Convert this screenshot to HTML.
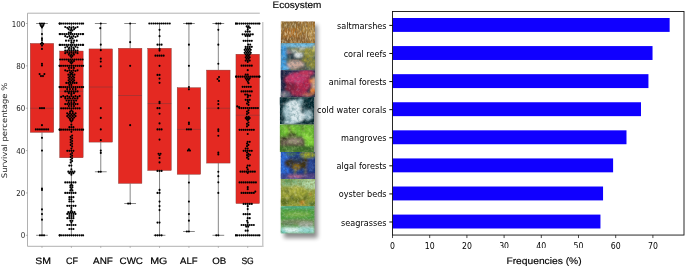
<!DOCTYPE html>
<html lang="en"><head><meta charset="utf-8"><title>Ecosystem restoration survival</title>
<style>html,body{margin:0;padding:0;background:#fff;}svg{display:block}</style></head>
<body>
<svg width="685" height="267" viewBox="0 0 685 267">
<defs><clipPath id="tickclip"><rect x="380" y="238" width="305" height="10.25"/></clipPath><filter id="b1" x="-20%" y="-20%" width="140%" height="140%"><feGaussianBlur stdDeviation="0.8"/></filter>
<filter id="b2" x="-20%" y="-20%" width="140%" height="140%"><feGaussianBlur stdDeviation="1.4"/></filter>
<filter id="sh" x="-30%" y="-10%" width="170%" height="125%"><feGaussianBlur stdDeviation="2.3"/></filter>
<clipPath id="pc0"><rect x="280.9" y="21.4" width="34.10" height="21.60"/></clipPath>
<clipPath id="pc1"><rect x="280.7" y="43.0" width="34.30" height="27.20"/></clipPath>
<clipPath id="pc2"><rect x="280.7" y="70.2" width="34.30" height="27.00"/></clipPath>
<clipPath id="pc3"><rect x="279.8" y="97.2" width="34.30" height="27.40"/></clipPath>
<clipPath id="pc4"><rect x="279.8" y="124.6" width="34.10" height="27.30"/></clipPath>
<clipPath id="pc5"><rect x="280.7" y="151.9" width="34.30" height="27.00"/></clipPath>
<clipPath id="pc6"><rect x="280.7" y="178.9" width="34.30" height="27.30"/></clipPath>
<clipPath id="pc7"><rect x="280.6" y="206.2" width="33.90" height="27.20"/></clipPath>
<filter id="n1" x="0" y="0" width="100%" height="100%"><feTurbulence type="fractalNoise" baseFrequency="0.6 0.25" numOctaves="2" seed="4"/><feColorMatrix type="matrix" values="0 0 0 0 0.204  0 0 0 0 0.125  0 0 0 0 0.047  3.0 0 0 0 -1.15"/></filter>
<filter id="n2" x="0" y="0" width="100%" height="100%"><feTurbulence type="fractalNoise" baseFrequency="0.8 0.25" numOctaves="2" seed="11"/><feColorMatrix type="matrix" values="0 0 0 0 0.894  0 0 0 0 0.761  0 0 0 0 0.486  0 2.8 0 0 -1.2"/></filter>
<filter id="n3" x="0" y="0" width="100%" height="100%"><feTurbulence type="fractalNoise" baseFrequency="0.3 0.3" numOctaves="2" seed="9"/><feColorMatrix type="matrix" values="0 0 0 0 0.290  0 0 0 0 0.165  0 0 0 0 0.063  2.8 0 0 0 -1.2"/></filter>
<filter id="n4" x="0" y="0" width="100%" height="100%"><feTurbulence type="fractalNoise" baseFrequency="0.36 0.36" numOctaves="2" seed="7"/><feColorMatrix type="matrix" values="0 0 0 0 0.047  0 0 0 0 0.094  0 0 0 0 0.125  2.8 0 0 0 -1.15"/></filter>
<filter id="n5" x="0" y="0" width="100%" height="100%"><feTurbulence type="fractalNoise" baseFrequency="0.36 0.36" numOctaves="2" seed="23"/><feColorMatrix type="matrix" values="0 0 0 0 0.941  0 0 0 0 0.941  0 0 0 0 0.816  0 2.6 0 0 -1.2"/></filter>
<filter id="n6" x="0" y="0" width="100%" height="100%"><feTurbulence type="fractalNoise" baseFrequency="0.36 0.36" numOctaves="2" seed="3"/><feColorMatrix type="matrix" values="0 0 0 0 0.063  0 0 0 0 0.031  0 0 0 0 0.110  2.6 0 0 0 -1.05"/></filter>
<filter id="n7" x="0" y="0" width="100%" height="100%"><feTurbulence type="fractalNoise" baseFrequency="0.36 0.36" numOctaves="2" seed="17"/><feColorMatrix type="matrix" values="0 0 0 0 0.933  0 0 0 0 0.478  0 0 0 0 0.596  0 2.6 0 0 -1.15"/></filter>
<filter id="n8" x="0" y="0" width="100%" height="100%"><feTurbulence type="fractalNoise" baseFrequency="0.36 0.36" numOctaves="2" seed="5"/><feColorMatrix type="matrix" values="0 0 0 0 0.016  0 0 0 0 0.094  0 0 0 0 0.110  2.8 0 0 0 -1.15"/></filter>
<filter id="n9" x="0" y="0" width="100%" height="100%"><feTurbulence type="fractalNoise" baseFrequency="0.36 0.36" numOctaves="2" seed="29"/><feColorMatrix type="matrix" values="0 0 0 0 1.000  0 0 0 0 1.000  0 0 0 0 1.000  0 2.6 0 0 -1.1"/></filter>
<filter id="n10" x="0" y="0" width="100%" height="100%"><feTurbulence type="fractalNoise" baseFrequency="0.36 0.36" numOctaves="2" seed="13"/><feColorMatrix type="matrix" values="0 0 0 0 0.078  0 0 0 0 0.141  0 0 0 0 0.031  2.6 0 0 0 -1.05"/></filter>
<filter id="n11" x="0" y="0" width="100%" height="100%"><feTurbulence type="fractalNoise" baseFrequency="0.36 0.36" numOctaves="2" seed="31"/><feColorMatrix type="matrix" values="0 0 0 0 0.784  0 0 0 0 0.941  0 0 0 0 0.439  0 2.6 0 0 -1.12"/></filter>
<filter id="n12" x="0" y="0" width="100%" height="100%"><feTurbulence type="fractalNoise" baseFrequency="0.4 0.4" numOctaves="2" seed="19"/><feColorMatrix type="matrix" values="0 0 0 0 0.024  0 0 0 0 0.039  0 0 0 0 0.157  2.8 0 0 0 -1.05"/></filter>
<filter id="n13" x="0" y="0" width="100%" height="100%"><feTurbulence type="fractalNoise" baseFrequency="0.36 0.36" numOctaves="2" seed="37"/><feColorMatrix type="matrix" values="0 0 0 0 0.376  0 0 0 0 0.627  0 0 0 0 1.000  0 2.6 0 0 -1.15"/></filter>
<filter id="n14" x="0" y="0" width="100%" height="100%"><feTurbulence type="fractalNoise" baseFrequency="0.42 0.42" numOctaves="2" seed="41"/><feColorMatrix type="matrix" values="0 0 0 0 0.157  0 0 0 0 0.188  0 0 0 0 0.031  2.8 0 0 0 -1.08"/></filter>
<filter id="n15" x="0" y="0" width="100%" height="100%"><feTurbulence type="fractalNoise" baseFrequency="0.36 0.36" numOctaves="2" seed="43"/><feColorMatrix type="matrix" values="0 0 0 0 0.878  0 0 0 0 0.878  0 0 0 0 0.502  0 2.6 0 0 -1.12"/></filter>
<filter id="n16" x="0" y="0" width="100%" height="100%"><feTurbulence type="fractalNoise" baseFrequency="0.35 0.6" numOctaves="2" seed="47"/><feColorMatrix type="matrix" values="0 0 0 0 0.094  0 0 0 0 0.188  0 0 0 0 0.094  2.6 0 0 0 -1.08"/></filter>
<filter id="n17" x="0" y="0" width="100%" height="100%"><feTurbulence type="fractalNoise" baseFrequency="0.35 0.6" numOctaves="2" seed="53"/><feColorMatrix type="matrix" values="0 0 0 0 1.000  0 0 0 0 1.000  0 0 0 0 1.000  0 2.6 0 0 -1.12"/></filter></defs>
<rect width="685" height="267" fill="#fff"/>
<g id="boxplot">
<path d="M41.99 23.50V43.41M41.99 132.37V235.30M36.12 23.50H47.87M36.12 235.30H47.87" stroke="#444" stroke-width="0.65" fill="none"/>
<rect x="30.24" y="43.41" width="23.51" height="88.96" fill="#e42922" stroke="#7a3a36" stroke-width="0.4"/>
<path d="M30.24 108.22H53.75" stroke="#7a3a3a" stroke-width="0.5"/>
<path d="M71.38 23.50V51.03M71.38 157.78V235.30M65.50 23.50H77.26M65.50 235.30H77.26" stroke="#444" stroke-width="0.65" fill="none"/>
<rect x="59.63" y="51.03" width="23.51" height="106.75" fill="#e42922" stroke="#7a3a36" stroke-width="0.4"/>
<path d="M59.63 91.28H83.14" stroke="#7a3a3a" stroke-width="0.5"/>
<path d="M100.77 23.50V48.92M100.77 142.11V171.76M94.89 23.50H106.65M94.89 171.76H106.65" stroke="#444" stroke-width="0.65" fill="none"/>
<rect x="89.01" y="48.92" width="23.51" height="93.19" fill="#e42922" stroke="#7a3a36" stroke-width="0.4"/>
<path d="M89.01 87.04H112.52" stroke="#7a3a3a" stroke-width="0.5"/>
<path d="M130.16 23.50V48.28M130.16 183.41V203.53M124.28 23.50H136.03M124.28 203.53H136.03" stroke="#444" stroke-width="0.65" fill="none"/>
<rect x="118.40" y="48.28" width="23.51" height="135.13" fill="#e42922" stroke="#7a3a36" stroke-width="0.4"/>
<path d="M118.40 95.51H141.91" stroke="#7a3a3a" stroke-width="0.5"/>
<path d="M159.54 23.50V48.28M159.54 170.49V235.30M153.67 23.50H165.42M153.67 235.30H165.42" stroke="#444" stroke-width="0.65" fill="none"/>
<rect x="147.79" y="48.28" width="23.51" height="122.21" fill="#e42922" stroke="#7a3a36" stroke-width="0.4"/>
<path d="M147.79 103.56H171.30" stroke="#7a3a3a" stroke-width="0.5"/>
<path d="M188.93 23.50V87.68M188.93 174.30V231.49M183.05 23.50H194.81M183.05 231.49H194.81" stroke="#444" stroke-width="0.65" fill="none"/>
<rect x="177.18" y="87.68" width="23.51" height="86.63" fill="#e42922" stroke="#7a3a36" stroke-width="0.4"/>
<path d="M177.18 129.40H200.69" stroke="#7a3a3a" stroke-width="0.5"/>
<path d="M218.32 23.50V70.10M218.32 163.08V235.30M212.44 23.50H224.20M212.44 235.30H224.20" stroke="#444" stroke-width="0.65" fill="none"/>
<rect x="206.56" y="70.10" width="23.51" height="92.98" fill="#e42922" stroke="#7a3a36" stroke-width="0.4"/>
<path d="M206.56 108.22H230.07" stroke="#7a3a3a" stroke-width="0.5"/>
<path d="M247.71 23.50V54.21M247.71 203.53V235.30M241.83 23.50H253.58M241.83 235.30H253.58" stroke="#444" stroke-width="0.65" fill="none"/>
<rect x="235.95" y="54.21" width="23.51" height="149.32" fill="#e42922" stroke="#7a3a36" stroke-width="0.4"/>
<path d="M235.95 115.21H259.46" stroke="#7a3a3a" stroke-width="0.5"/>
<path d="M259.8 13.2H27.5V246.3H263.4" fill="none" stroke="#a8a8a8" stroke-width="0.9"/>
<path d="M262.75 22V246.70000000000002" fill="none" stroke="#cbcbcb" stroke-width="1.5"/>
<path d="M41.99 246.3v1.6" stroke="#888" stroke-width="0.6"/>
<path d="M71.38 246.3v1.6" stroke="#888" stroke-width="0.6"/>
<path d="M100.77 246.3v1.6" stroke="#888" stroke-width="0.6"/>
<path d="M130.16 246.3v1.6" stroke="#888" stroke-width="0.6"/>
<path d="M159.54 246.3v1.6" stroke="#888" stroke-width="0.6"/>
<path d="M188.93 246.3v1.6" stroke="#888" stroke-width="0.6"/>
<path d="M218.32 246.3v1.6" stroke="#888" stroke-width="0.6"/>
<path d="M247.71 246.3v1.6" stroke="#888" stroke-width="0.6"/>
<path d="M27.5 235.30h-1.6" stroke="#888" stroke-width="0.6"/>
<path d="M27.5 192.94h-1.6" stroke="#888" stroke-width="0.6"/>
<path d="M27.5 150.58h-1.6" stroke="#888" stroke-width="0.6"/>
<path d="M27.5 108.22h-1.6" stroke="#888" stroke-width="0.6"/>
<path d="M27.5 65.86h-1.6" stroke="#888" stroke-width="0.6"/>
<path d="M27.5 23.50h-1.6" stroke="#888" stroke-width="0.6"/>
<g fill="#000">
<ellipse cx="39.94" cy="23.50" rx="1.03" ry="1.1"/>
<ellipse cx="41.99" cy="23.50" rx="1.03" ry="1.1"/>
<ellipse cx="44.04" cy="23.50" rx="1.03" ry="1.1"/>
<ellipse cx="40.59" cy="24.98" rx="1.03" ry="1.1"/>
<ellipse cx="43.39" cy="24.98" rx="1.03" ry="1.1"/>
<ellipse cx="41.24" cy="26.25" rx="1.03" ry="1.1"/>
<ellipse cx="42.74" cy="26.25" rx="1.03" ry="1.1"/>
<ellipse cx="41.99" cy="27.52" rx="1.03" ry="1.1"/>
<ellipse cx="41.99" cy="34.09" rx="1.03" ry="1.1"/>
<ellipse cx="41.99" cy="38.33" rx="1.03" ry="1.1"/>
<ellipse cx="41.99" cy="40.02" rx="1.03" ry="1.1"/>
<ellipse cx="41.99" cy="42.56" rx="1.03" ry="1.1"/>
<ellipse cx="40.97" cy="43.83" rx="1.03" ry="1.1"/>
<ellipse cx="43.02" cy="43.83" rx="1.03" ry="1.1"/>
<ellipse cx="41.99" cy="45.53" rx="1.03" ry="1.1"/>
<ellipse cx="41.99" cy="48.92" rx="1.03" ry="1.1"/>
<ellipse cx="41.99" cy="63.74" rx="1.03" ry="1.1"/>
<ellipse cx="41.99" cy="65.44" rx="1.03" ry="1.1"/>
<ellipse cx="39.59" cy="74.12" rx="1.03" ry="1.1"/>
<ellipse cx="44.39" cy="74.12" rx="1.03" ry="1.1"/>
<ellipse cx="40.99" cy="76.03" rx="1.03" ry="1.1"/>
<ellipse cx="42.99" cy="76.03" rx="1.03" ry="1.1"/>
<ellipse cx="39.94" cy="108.22" rx="1.03" ry="1.1"/>
<ellipse cx="41.99" cy="108.22" rx="1.03" ry="1.1"/>
<ellipse cx="44.04" cy="108.22" rx="1.03" ry="1.1"/>
<ellipse cx="41.99" cy="125.16" rx="1.03" ry="1.1"/>
<ellipse cx="35.84" cy="129.40" rx="1.03" ry="1.1"/>
<ellipse cx="37.89" cy="129.40" rx="1.03" ry="1.1"/>
<ellipse cx="39.94" cy="129.40" rx="1.03" ry="1.1"/>
<ellipse cx="41.99" cy="129.40" rx="1.03" ry="1.1"/>
<ellipse cx="44.04" cy="129.40" rx="1.03" ry="1.1"/>
<ellipse cx="46.09" cy="129.40" rx="1.03" ry="1.1"/>
<ellipse cx="48.14" cy="129.40" rx="1.03" ry="1.1"/>
<ellipse cx="41.99" cy="137.87" rx="1.03" ry="1.1"/>
<ellipse cx="41.99" cy="150.58" rx="1.03" ry="1.1"/>
<ellipse cx="41.99" cy="188.70" rx="1.03" ry="1.1"/>
<ellipse cx="41.99" cy="189.97" rx="1.03" ry="1.1"/>
<ellipse cx="41.99" cy="209.46" rx="1.03" ry="1.1"/>
<ellipse cx="41.99" cy="214.12" rx="1.03" ry="1.1"/>
<ellipse cx="41.99" cy="219.63" rx="1.03" ry="1.1"/>
<ellipse cx="39.94" cy="235.30" rx="1.03" ry="1.1"/>
<ellipse cx="41.99" cy="235.30" rx="1.03" ry="1.1"/>
<ellipse cx="44.04" cy="235.30" rx="1.03" ry="1.1"/>
<ellipse cx="59.63" cy="23.60" rx="1.03" ry="1.1"/>
<ellipse cx="59.63" cy="23.60" rx="1.03" ry="1.1"/>
<ellipse cx="61.13" cy="23.60" rx="1.03" ry="1.1"/>
<ellipse cx="63.18" cy="23.60" rx="1.03" ry="1.1"/>
<ellipse cx="65.23" cy="23.60" rx="1.03" ry="1.1"/>
<ellipse cx="67.28" cy="23.60" rx="1.03" ry="1.1"/>
<ellipse cx="69.33" cy="23.60" rx="1.03" ry="1.1"/>
<ellipse cx="71.38" cy="23.60" rx="1.03" ry="1.1"/>
<ellipse cx="73.43" cy="23.60" rx="1.03" ry="1.1"/>
<ellipse cx="75.48" cy="23.60" rx="1.03" ry="1.1"/>
<ellipse cx="77.53" cy="23.60" rx="1.03" ry="1.1"/>
<ellipse cx="79.58" cy="23.60" rx="1.03" ry="1.1"/>
<ellipse cx="81.63" cy="23.60" rx="1.03" ry="1.1"/>
<ellipse cx="83.14" cy="23.60" rx="1.03" ry="1.1"/>
<ellipse cx="65.23" cy="27.00" rx="1.03" ry="1.1"/>
<ellipse cx="69.33" cy="27.00" rx="1.03" ry="1.1"/>
<ellipse cx="73.43" cy="27.00" rx="1.03" ry="1.1"/>
<ellipse cx="77.53" cy="27.00" rx="1.03" ry="1.1"/>
<ellipse cx="67.28" cy="27.80" rx="1.03" ry="1.1"/>
<ellipse cx="71.38" cy="27.80" rx="1.03" ry="1.1"/>
<ellipse cx="75.48" cy="27.80" rx="1.03" ry="1.1"/>
<ellipse cx="68.68" cy="29.20" rx="1.03" ry="1.1"/>
<ellipse cx="71.38" cy="29.20" rx="1.03" ry="1.1"/>
<ellipse cx="74.08" cy="29.20" rx="1.03" ry="1.1"/>
<ellipse cx="70.36" cy="30.50" rx="1.03" ry="1.1"/>
<ellipse cx="72.41" cy="30.50" rx="1.03" ry="1.1"/>
<ellipse cx="68.86" cy="32.70" rx="1.03" ry="1.1"/>
<ellipse cx="70.91" cy="32.70" rx="1.03" ry="1.1"/>
<ellipse cx="59.63" cy="34.10" rx="1.03" ry="1.1"/>
<ellipse cx="60.11" cy="34.10" rx="1.03" ry="1.1"/>
<ellipse cx="62.16" cy="34.10" rx="1.03" ry="1.1"/>
<ellipse cx="64.21" cy="34.10" rx="1.03" ry="1.1"/>
<ellipse cx="66.26" cy="34.10" rx="1.03" ry="1.1"/>
<ellipse cx="68.31" cy="34.10" rx="1.03" ry="1.1"/>
<ellipse cx="70.36" cy="34.10" rx="1.03" ry="1.1"/>
<ellipse cx="72.41" cy="34.10" rx="1.03" ry="1.1"/>
<ellipse cx="74.46" cy="34.10" rx="1.03" ry="1.1"/>
<ellipse cx="76.51" cy="34.10" rx="1.03" ry="1.1"/>
<ellipse cx="78.56" cy="34.10" rx="1.03" ry="1.1"/>
<ellipse cx="80.61" cy="34.10" rx="1.03" ry="1.1"/>
<ellipse cx="82.66" cy="34.10" rx="1.03" ry="1.1"/>
<ellipse cx="83.14" cy="34.10" rx="1.03" ry="1.1"/>
<ellipse cx="65.23" cy="36.20" rx="1.03" ry="1.1"/>
<ellipse cx="69.33" cy="36.20" rx="1.03" ry="1.1"/>
<ellipse cx="73.43" cy="36.20" rx="1.03" ry="1.1"/>
<ellipse cx="77.53" cy="36.20" rx="1.03" ry="1.1"/>
<ellipse cx="67.28" cy="37.00" rx="1.03" ry="1.1"/>
<ellipse cx="71.38" cy="37.00" rx="1.03" ry="1.1"/>
<ellipse cx="75.48" cy="37.00" rx="1.03" ry="1.1"/>
<ellipse cx="70.08" cy="38.40" rx="1.03" ry="1.1"/>
<ellipse cx="72.68" cy="38.40" rx="1.03" ry="1.1"/>
<ellipse cx="65.98" cy="40.70" rx="1.03" ry="1.1"/>
<ellipse cx="68.68" cy="40.70" rx="1.03" ry="1.1"/>
<ellipse cx="71.38" cy="40.70" rx="1.03" ry="1.1"/>
<ellipse cx="74.08" cy="40.70" rx="1.03" ry="1.1"/>
<ellipse cx="76.78" cy="40.70" rx="1.03" ry="1.1"/>
<ellipse cx="71.36" cy="42.60" rx="1.03" ry="1.1"/>
<ellipse cx="73.41" cy="42.60" rx="1.03" ry="1.1"/>
<ellipse cx="59.63" cy="44.90" rx="1.03" ry="1.1"/>
<ellipse cx="60.11" cy="44.90" rx="1.03" ry="1.1"/>
<ellipse cx="62.16" cy="44.90" rx="1.03" ry="1.1"/>
<ellipse cx="64.21" cy="44.90" rx="1.03" ry="1.1"/>
<ellipse cx="66.26" cy="44.90" rx="1.03" ry="1.1"/>
<ellipse cx="68.31" cy="44.90" rx="1.03" ry="1.1"/>
<ellipse cx="70.36" cy="44.90" rx="1.03" ry="1.1"/>
<ellipse cx="72.41" cy="44.90" rx="1.03" ry="1.1"/>
<ellipse cx="74.46" cy="44.90" rx="1.03" ry="1.1"/>
<ellipse cx="76.51" cy="44.90" rx="1.03" ry="1.1"/>
<ellipse cx="78.56" cy="44.90" rx="1.03" ry="1.1"/>
<ellipse cx="80.61" cy="44.90" rx="1.03" ry="1.1"/>
<ellipse cx="82.66" cy="44.90" rx="1.03" ry="1.1"/>
<ellipse cx="83.14" cy="44.90" rx="1.03" ry="1.1"/>
<ellipse cx="67.28" cy="46.70" rx="1.03" ry="1.1"/>
<ellipse cx="71.38" cy="46.70" rx="1.03" ry="1.1"/>
<ellipse cx="75.48" cy="46.70" rx="1.03" ry="1.1"/>
<ellipse cx="65.23" cy="47.50" rx="1.03" ry="1.1"/>
<ellipse cx="69.33" cy="47.50" rx="1.03" ry="1.1"/>
<ellipse cx="73.43" cy="47.50" rx="1.03" ry="1.1"/>
<ellipse cx="77.53" cy="47.50" rx="1.03" ry="1.1"/>
<ellipse cx="68.78" cy="48.90" rx="1.03" ry="1.1"/>
<ellipse cx="71.38" cy="48.90" rx="1.03" ry="1.1"/>
<ellipse cx="73.98" cy="48.90" rx="1.03" ry="1.1"/>
<ellipse cx="65.23" cy="50.70" rx="1.03" ry="1.1"/>
<ellipse cx="67.28" cy="50.70" rx="1.03" ry="1.1"/>
<ellipse cx="69.33" cy="50.70" rx="1.03" ry="1.1"/>
<ellipse cx="71.38" cy="50.70" rx="1.03" ry="1.1"/>
<ellipse cx="73.43" cy="50.70" rx="1.03" ry="1.1"/>
<ellipse cx="75.48" cy="50.70" rx="1.03" ry="1.1"/>
<ellipse cx="77.53" cy="50.70" rx="1.03" ry="1.1"/>
<ellipse cx="67.28" cy="52.40" rx="1.03" ry="1.1"/>
<ellipse cx="71.38" cy="52.40" rx="1.03" ry="1.1"/>
<ellipse cx="75.48" cy="52.40" rx="1.03" ry="1.1"/>
<ellipse cx="65.23" cy="53.20" rx="1.03" ry="1.1"/>
<ellipse cx="69.33" cy="53.20" rx="1.03" ry="1.1"/>
<ellipse cx="73.43" cy="53.20" rx="1.03" ry="1.1"/>
<ellipse cx="77.53" cy="53.20" rx="1.03" ry="1.1"/>
<ellipse cx="68.78" cy="54.60" rx="1.03" ry="1.1"/>
<ellipse cx="71.38" cy="54.60" rx="1.03" ry="1.1"/>
<ellipse cx="73.98" cy="54.60" rx="1.03" ry="1.1"/>
<ellipse cx="70.36" cy="55.90" rx="1.03" ry="1.1"/>
<ellipse cx="72.41" cy="55.90" rx="1.03" ry="1.1"/>
<ellipse cx="71.38" cy="57.30" rx="1.03" ry="1.1"/>
<ellipse cx="60.11" cy="59.50" rx="1.03" ry="1.1"/>
<ellipse cx="62.16" cy="59.50" rx="1.03" ry="1.1"/>
<ellipse cx="64.21" cy="59.50" rx="1.03" ry="1.1"/>
<ellipse cx="66.26" cy="59.50" rx="1.03" ry="1.1"/>
<ellipse cx="68.31" cy="59.50" rx="1.03" ry="1.1"/>
<ellipse cx="70.36" cy="59.50" rx="1.03" ry="1.1"/>
<ellipse cx="72.41" cy="59.50" rx="1.03" ry="1.1"/>
<ellipse cx="74.46" cy="59.50" rx="1.03" ry="1.1"/>
<ellipse cx="76.51" cy="59.50" rx="1.03" ry="1.1"/>
<ellipse cx="78.56" cy="59.50" rx="1.03" ry="1.1"/>
<ellipse cx="80.61" cy="59.50" rx="1.03" ry="1.1"/>
<ellipse cx="82.66" cy="59.50" rx="1.03" ry="1.1"/>
<ellipse cx="68.78" cy="61.00" rx="1.03" ry="1.1"/>
<ellipse cx="71.38" cy="61.00" rx="1.03" ry="1.1"/>
<ellipse cx="73.98" cy="61.00" rx="1.03" ry="1.1"/>
<ellipse cx="70.36" cy="62.30" rx="1.03" ry="1.1"/>
<ellipse cx="72.41" cy="62.30" rx="1.03" ry="1.1"/>
<ellipse cx="71.38" cy="63.60" rx="1.03" ry="1.1"/>
<ellipse cx="59.63" cy="65.80" rx="1.03" ry="1.1"/>
<ellipse cx="59.63" cy="65.80" rx="1.03" ry="1.1"/>
<ellipse cx="61.13" cy="65.80" rx="1.03" ry="1.1"/>
<ellipse cx="63.18" cy="65.80" rx="1.03" ry="1.1"/>
<ellipse cx="65.23" cy="65.80" rx="1.03" ry="1.1"/>
<ellipse cx="67.28" cy="65.80" rx="1.03" ry="1.1"/>
<ellipse cx="69.33" cy="65.80" rx="1.03" ry="1.1"/>
<ellipse cx="71.38" cy="65.80" rx="1.03" ry="1.1"/>
<ellipse cx="73.43" cy="65.80" rx="1.03" ry="1.1"/>
<ellipse cx="75.48" cy="65.80" rx="1.03" ry="1.1"/>
<ellipse cx="77.53" cy="65.80" rx="1.03" ry="1.1"/>
<ellipse cx="79.58" cy="65.80" rx="1.03" ry="1.1"/>
<ellipse cx="81.63" cy="65.80" rx="1.03" ry="1.1"/>
<ellipse cx="83.14" cy="65.80" rx="1.03" ry="1.1"/>
<ellipse cx="68.88" cy="67.90" rx="1.03" ry="1.1"/>
<ellipse cx="71.38" cy="67.90" rx="1.03" ry="1.1"/>
<ellipse cx="73.88" cy="67.90" rx="1.03" ry="1.1"/>
<ellipse cx="65.23" cy="70.30" rx="1.03" ry="1.1"/>
<ellipse cx="69.33" cy="70.30" rx="1.03" ry="1.1"/>
<ellipse cx="73.43" cy="70.30" rx="1.03" ry="1.1"/>
<ellipse cx="77.53" cy="70.30" rx="1.03" ry="1.1"/>
<ellipse cx="67.28" cy="71.00" rx="1.03" ry="1.1"/>
<ellipse cx="71.38" cy="71.00" rx="1.03" ry="1.1"/>
<ellipse cx="75.48" cy="71.00" rx="1.03" ry="1.1"/>
<ellipse cx="70.08" cy="72.60" rx="1.03" ry="1.1"/>
<ellipse cx="72.68" cy="72.60" rx="1.03" ry="1.1"/>
<ellipse cx="71.38" cy="73.60" rx="1.03" ry="1.1"/>
<ellipse cx="68.31" cy="74.70" rx="1.03" ry="1.1"/>
<ellipse cx="70.36" cy="74.70" rx="1.03" ry="1.1"/>
<ellipse cx="72.41" cy="74.70" rx="1.03" ry="1.1"/>
<ellipse cx="74.46" cy="74.70" rx="1.03" ry="1.1"/>
<ellipse cx="69.88" cy="76.30" rx="1.03" ry="1.1"/>
<ellipse cx="72.88" cy="76.30" rx="1.03" ry="1.1"/>
<ellipse cx="68.58" cy="77.60" rx="1.03" ry="1.1"/>
<ellipse cx="71.38" cy="77.60" rx="1.03" ry="1.1"/>
<ellipse cx="74.18" cy="77.60" rx="1.03" ry="1.1"/>
<ellipse cx="69.88" cy="79.00" rx="1.03" ry="1.1"/>
<ellipse cx="72.88" cy="79.00" rx="1.03" ry="1.1"/>
<ellipse cx="68.58" cy="80.30" rx="1.03" ry="1.1"/>
<ellipse cx="71.38" cy="80.30" rx="1.03" ry="1.1"/>
<ellipse cx="74.18" cy="80.30" rx="1.03" ry="1.1"/>
<ellipse cx="69.88" cy="81.60" rx="1.03" ry="1.1"/>
<ellipse cx="72.88" cy="81.60" rx="1.03" ry="1.1"/>
<ellipse cx="66.26" cy="82.90" rx="1.03" ry="1.1"/>
<ellipse cx="68.31" cy="82.90" rx="1.03" ry="1.1"/>
<ellipse cx="70.36" cy="82.90" rx="1.03" ry="1.1"/>
<ellipse cx="72.41" cy="82.90" rx="1.03" ry="1.1"/>
<ellipse cx="74.46" cy="82.90" rx="1.03" ry="1.1"/>
<ellipse cx="76.51" cy="82.90" rx="1.03" ry="1.1"/>
<ellipse cx="69.33" cy="84.90" rx="1.03" ry="1.1"/>
<ellipse cx="71.38" cy="84.90" rx="1.03" ry="1.1"/>
<ellipse cx="59.63" cy="87.10" rx="1.03" ry="1.1"/>
<ellipse cx="59.63" cy="87.10" rx="1.03" ry="1.1"/>
<ellipse cx="61.13" cy="87.10" rx="1.03" ry="1.1"/>
<ellipse cx="63.18" cy="87.10" rx="1.03" ry="1.1"/>
<ellipse cx="65.23" cy="87.10" rx="1.03" ry="1.1"/>
<ellipse cx="67.28" cy="87.10" rx="1.03" ry="1.1"/>
<ellipse cx="69.33" cy="87.10" rx="1.03" ry="1.1"/>
<ellipse cx="71.38" cy="87.10" rx="1.03" ry="1.1"/>
<ellipse cx="73.43" cy="87.10" rx="1.03" ry="1.1"/>
<ellipse cx="75.48" cy="87.10" rx="1.03" ry="1.1"/>
<ellipse cx="77.53" cy="87.10" rx="1.03" ry="1.1"/>
<ellipse cx="79.58" cy="87.10" rx="1.03" ry="1.1"/>
<ellipse cx="81.63" cy="87.10" rx="1.03" ry="1.1"/>
<ellipse cx="83.14" cy="87.10" rx="1.03" ry="1.1"/>
<ellipse cx="67.18" cy="89.10" rx="1.03" ry="1.1"/>
<ellipse cx="69.98" cy="89.10" rx="1.03" ry="1.1"/>
<ellipse cx="72.78" cy="89.10" rx="1.03" ry="1.1"/>
<ellipse cx="75.58" cy="89.10" rx="1.03" ry="1.1"/>
<ellipse cx="65.23" cy="91.40" rx="1.03" ry="1.1"/>
<ellipse cx="67.28" cy="91.40" rx="1.03" ry="1.1"/>
<ellipse cx="69.33" cy="91.40" rx="1.03" ry="1.1"/>
<ellipse cx="71.38" cy="91.40" rx="1.03" ry="1.1"/>
<ellipse cx="73.43" cy="91.40" rx="1.03" ry="1.1"/>
<ellipse cx="75.48" cy="91.40" rx="1.03" ry="1.1"/>
<ellipse cx="77.53" cy="91.40" rx="1.03" ry="1.1"/>
<ellipse cx="68.78" cy="93.20" rx="1.03" ry="1.1"/>
<ellipse cx="71.38" cy="93.20" rx="1.03" ry="1.1"/>
<ellipse cx="73.98" cy="93.20" rx="1.03" ry="1.1"/>
<ellipse cx="71.38" cy="94.50" rx="1.03" ry="1.1"/>
<ellipse cx="63.18" cy="96.10" rx="1.03" ry="1.1"/>
<ellipse cx="67.28" cy="96.10" rx="1.03" ry="1.1"/>
<ellipse cx="71.38" cy="96.10" rx="1.03" ry="1.1"/>
<ellipse cx="75.48" cy="96.10" rx="1.03" ry="1.1"/>
<ellipse cx="79.58" cy="96.10" rx="1.03" ry="1.1"/>
<ellipse cx="61.13" cy="96.90" rx="1.03" ry="1.1"/>
<ellipse cx="65.23" cy="96.90" rx="1.03" ry="1.1"/>
<ellipse cx="69.33" cy="96.90" rx="1.03" ry="1.1"/>
<ellipse cx="73.43" cy="96.90" rx="1.03" ry="1.1"/>
<ellipse cx="77.53" cy="96.90" rx="1.03" ry="1.1"/>
<ellipse cx="65.38" cy="98.50" rx="1.03" ry="1.1"/>
<ellipse cx="67.78" cy="98.50" rx="1.03" ry="1.1"/>
<ellipse cx="70.18" cy="98.50" rx="1.03" ry="1.1"/>
<ellipse cx="72.58" cy="98.50" rx="1.03" ry="1.1"/>
<ellipse cx="74.98" cy="98.50" rx="1.03" ry="1.1"/>
<ellipse cx="77.38" cy="98.50" rx="1.03" ry="1.1"/>
<ellipse cx="66.58" cy="100.50" rx="1.03" ry="1.1"/>
<ellipse cx="68.98" cy="100.50" rx="1.03" ry="1.1"/>
<ellipse cx="71.38" cy="100.50" rx="1.03" ry="1.1"/>
<ellipse cx="73.78" cy="100.50" rx="1.03" ry="1.1"/>
<ellipse cx="76.18" cy="100.50" rx="1.03" ry="1.1"/>
<ellipse cx="68.58" cy="102.30" rx="1.03" ry="1.1"/>
<ellipse cx="71.38" cy="102.30" rx="1.03" ry="1.1"/>
<ellipse cx="74.18" cy="102.30" rx="1.03" ry="1.1"/>
<ellipse cx="65.23" cy="104.10" rx="1.03" ry="1.1"/>
<ellipse cx="67.28" cy="104.10" rx="1.03" ry="1.1"/>
<ellipse cx="69.33" cy="104.10" rx="1.03" ry="1.1"/>
<ellipse cx="71.38" cy="104.10" rx="1.03" ry="1.1"/>
<ellipse cx="73.43" cy="104.10" rx="1.03" ry="1.1"/>
<ellipse cx="75.48" cy="104.10" rx="1.03" ry="1.1"/>
<ellipse cx="77.53" cy="104.10" rx="1.03" ry="1.1"/>
<ellipse cx="68.78" cy="106.00" rx="1.03" ry="1.1"/>
<ellipse cx="71.38" cy="106.00" rx="1.03" ry="1.1"/>
<ellipse cx="73.98" cy="106.00" rx="1.03" ry="1.1"/>
<ellipse cx="61.13" cy="108.30" rx="1.03" ry="1.1"/>
<ellipse cx="63.18" cy="108.30" rx="1.03" ry="1.1"/>
<ellipse cx="65.23" cy="108.30" rx="1.03" ry="1.1"/>
<ellipse cx="67.28" cy="108.30" rx="1.03" ry="1.1"/>
<ellipse cx="69.33" cy="108.30" rx="1.03" ry="1.1"/>
<ellipse cx="71.38" cy="108.30" rx="1.03" ry="1.1"/>
<ellipse cx="73.43" cy="108.30" rx="1.03" ry="1.1"/>
<ellipse cx="75.48" cy="108.30" rx="1.03" ry="1.1"/>
<ellipse cx="77.53" cy="108.30" rx="1.03" ry="1.1"/>
<ellipse cx="79.58" cy="108.30" rx="1.03" ry="1.1"/>
<ellipse cx="71.38" cy="110.30" rx="1.03" ry="1.1"/>
<ellipse cx="70.08" cy="111.70" rx="1.03" ry="1.1"/>
<ellipse cx="72.68" cy="111.70" rx="1.03" ry="1.1"/>
<ellipse cx="67.18" cy="113.30" rx="1.03" ry="1.1"/>
<ellipse cx="69.98" cy="113.30" rx="1.03" ry="1.1"/>
<ellipse cx="72.78" cy="113.30" rx="1.03" ry="1.1"/>
<ellipse cx="75.58" cy="113.30" rx="1.03" ry="1.1"/>
<ellipse cx="68.58" cy="114.70" rx="1.03" ry="1.1"/>
<ellipse cx="71.38" cy="114.70" rx="1.03" ry="1.1"/>
<ellipse cx="74.18" cy="114.70" rx="1.03" ry="1.1"/>
<ellipse cx="67.18" cy="116.10" rx="1.03" ry="1.1"/>
<ellipse cx="69.98" cy="116.10" rx="1.03" ry="1.1"/>
<ellipse cx="72.78" cy="116.10" rx="1.03" ry="1.1"/>
<ellipse cx="75.58" cy="116.10" rx="1.03" ry="1.1"/>
<ellipse cx="68.58" cy="117.50" rx="1.03" ry="1.1"/>
<ellipse cx="71.38" cy="117.50" rx="1.03" ry="1.1"/>
<ellipse cx="74.18" cy="117.50" rx="1.03" ry="1.1"/>
<ellipse cx="69.98" cy="118.90" rx="1.03" ry="1.1"/>
<ellipse cx="72.78" cy="118.90" rx="1.03" ry="1.1"/>
<ellipse cx="70.36" cy="120.30" rx="1.03" ry="1.1"/>
<ellipse cx="72.41" cy="120.30" rx="1.03" ry="1.1"/>
<ellipse cx="71.38" cy="121.60" rx="1.03" ry="1.1"/>
<ellipse cx="71.38" cy="124.70" rx="1.03" ry="1.1"/>
<ellipse cx="69.33" cy="127.20" rx="1.03" ry="1.1"/>
<ellipse cx="71.38" cy="127.20" rx="1.03" ry="1.1"/>
<ellipse cx="73.43" cy="127.20" rx="1.03" ry="1.1"/>
<ellipse cx="59.63" cy="129.65" rx="1.03" ry="1.1"/>
<ellipse cx="59.63" cy="129.65" rx="1.03" ry="1.1"/>
<ellipse cx="61.13" cy="129.65" rx="1.03" ry="1.1"/>
<ellipse cx="63.18" cy="129.65" rx="1.03" ry="1.1"/>
<ellipse cx="65.23" cy="129.65" rx="1.03" ry="1.1"/>
<ellipse cx="67.28" cy="129.65" rx="1.03" ry="1.1"/>
<ellipse cx="69.33" cy="129.65" rx="1.03" ry="1.1"/>
<ellipse cx="71.38" cy="129.65" rx="1.03" ry="1.1"/>
<ellipse cx="73.43" cy="129.65" rx="1.03" ry="1.1"/>
<ellipse cx="75.48" cy="129.65" rx="1.03" ry="1.1"/>
<ellipse cx="77.53" cy="129.65" rx="1.03" ry="1.1"/>
<ellipse cx="79.58" cy="129.65" rx="1.03" ry="1.1"/>
<ellipse cx="81.63" cy="129.65" rx="1.03" ry="1.1"/>
<ellipse cx="83.14" cy="129.65" rx="1.03" ry="1.1"/>
<ellipse cx="71.38" cy="131.80" rx="1.03" ry="1.1"/>
<ellipse cx="72.13" cy="135.60" rx="1.03" ry="1.1"/>
<ellipse cx="70.63" cy="136.95" rx="1.03" ry="1.1"/>
<ellipse cx="72.13" cy="138.30" rx="1.03" ry="1.1"/>
<ellipse cx="70.63" cy="139.65" rx="1.03" ry="1.1"/>
<ellipse cx="72.13" cy="141.00" rx="1.03" ry="1.1"/>
<ellipse cx="70.63" cy="142.35" rx="1.03" ry="1.1"/>
<ellipse cx="72.13" cy="143.70" rx="1.03" ry="1.1"/>
<ellipse cx="70.63" cy="145.05" rx="1.03" ry="1.1"/>
<ellipse cx="72.13" cy="146.40" rx="1.03" ry="1.1"/>
<ellipse cx="71.38" cy="148.60" rx="1.03" ry="1.1"/>
<ellipse cx="67.28" cy="150.80" rx="1.03" ry="1.1"/>
<ellipse cx="69.33" cy="150.80" rx="1.03" ry="1.1"/>
<ellipse cx="71.38" cy="150.80" rx="1.03" ry="1.1"/>
<ellipse cx="73.43" cy="150.80" rx="1.03" ry="1.1"/>
<ellipse cx="72.13" cy="153.00" rx="1.03" ry="1.1"/>
<ellipse cx="70.63" cy="154.35" rx="1.03" ry="1.1"/>
<ellipse cx="72.13" cy="155.70" rx="1.03" ry="1.1"/>
<ellipse cx="70.63" cy="157.05" rx="1.03" ry="1.1"/>
<ellipse cx="72.13" cy="158.40" rx="1.03" ry="1.1"/>
<ellipse cx="70.63" cy="159.75" rx="1.03" ry="1.1"/>
<ellipse cx="72.13" cy="161.10" rx="1.03" ry="1.1"/>
<ellipse cx="70.63" cy="162.45" rx="1.03" ry="1.1"/>
<ellipse cx="69.33" cy="165.60" rx="1.03" ry="1.1"/>
<ellipse cx="71.38" cy="165.60" rx="1.03" ry="1.1"/>
<ellipse cx="71.38" cy="169.30" rx="1.03" ry="1.1"/>
<ellipse cx="68.31" cy="171.70" rx="1.03" ry="1.1"/>
<ellipse cx="70.36" cy="171.70" rx="1.03" ry="1.1"/>
<ellipse cx="72.41" cy="171.70" rx="1.03" ry="1.1"/>
<ellipse cx="74.46" cy="171.70" rx="1.03" ry="1.1"/>
<ellipse cx="69.33" cy="173.20" rx="1.03" ry="1.1"/>
<ellipse cx="71.38" cy="173.20" rx="1.03" ry="1.1"/>
<ellipse cx="73.43" cy="173.20" rx="1.03" ry="1.1"/>
<ellipse cx="71.38" cy="174.70" rx="1.03" ry="1.1"/>
<ellipse cx="65.23" cy="182.40" rx="1.03" ry="1.1"/>
<ellipse cx="67.28" cy="182.40" rx="1.03" ry="1.1"/>
<ellipse cx="69.33" cy="182.40" rx="1.03" ry="1.1"/>
<ellipse cx="71.38" cy="182.40" rx="1.03" ry="1.1"/>
<ellipse cx="73.43" cy="182.40" rx="1.03" ry="1.1"/>
<ellipse cx="75.48" cy="182.40" rx="1.03" ry="1.1"/>
<ellipse cx="71.38" cy="184.30" rx="1.03" ry="1.1"/>
<ellipse cx="70.36" cy="185.60" rx="1.03" ry="1.1"/>
<ellipse cx="72.41" cy="185.60" rx="1.03" ry="1.1"/>
<ellipse cx="70.36" cy="187.30" rx="1.03" ry="1.1"/>
<ellipse cx="72.41" cy="187.30" rx="1.03" ry="1.1"/>
<ellipse cx="71.38" cy="189.00" rx="1.03" ry="1.1"/>
<ellipse cx="70.36" cy="190.40" rx="1.03" ry="1.1"/>
<ellipse cx="72.41" cy="190.40" rx="1.03" ry="1.1"/>
<ellipse cx="65.23" cy="192.90" rx="1.03" ry="1.1"/>
<ellipse cx="67.28" cy="192.90" rx="1.03" ry="1.1"/>
<ellipse cx="69.33" cy="192.90" rx="1.03" ry="1.1"/>
<ellipse cx="71.38" cy="192.90" rx="1.03" ry="1.1"/>
<ellipse cx="73.43" cy="192.90" rx="1.03" ry="1.1"/>
<ellipse cx="75.48" cy="192.90" rx="1.03" ry="1.1"/>
<ellipse cx="69.33" cy="197.20" rx="1.03" ry="1.1"/>
<ellipse cx="71.38" cy="197.20" rx="1.03" ry="1.1"/>
<ellipse cx="73.43" cy="197.20" rx="1.03" ry="1.1"/>
<ellipse cx="69.33" cy="199.30" rx="1.03" ry="1.1"/>
<ellipse cx="71.38" cy="199.30" rx="1.03" ry="1.1"/>
<ellipse cx="69.33" cy="201.50" rx="1.03" ry="1.1"/>
<ellipse cx="71.38" cy="201.50" rx="1.03" ry="1.1"/>
<ellipse cx="73.43" cy="201.50" rx="1.03" ry="1.1"/>
<ellipse cx="67.28" cy="205.80" rx="1.03" ry="1.1"/>
<ellipse cx="69.33" cy="205.80" rx="1.03" ry="1.1"/>
<ellipse cx="71.38" cy="205.80" rx="1.03" ry="1.1"/>
<ellipse cx="73.43" cy="205.80" rx="1.03" ry="1.1"/>
<ellipse cx="75.48" cy="205.80" rx="1.03" ry="1.1"/>
<ellipse cx="71.38" cy="208.10" rx="1.03" ry="1.1"/>
<ellipse cx="71.38" cy="210.30" rx="1.03" ry="1.1"/>
<ellipse cx="68.31" cy="212.20" rx="1.03" ry="1.1"/>
<ellipse cx="70.36" cy="212.20" rx="1.03" ry="1.1"/>
<ellipse cx="72.41" cy="212.20" rx="1.03" ry="1.1"/>
<ellipse cx="74.46" cy="212.20" rx="1.03" ry="1.1"/>
<ellipse cx="67.28" cy="213.90" rx="1.03" ry="1.1"/>
<ellipse cx="69.33" cy="213.90" rx="1.03" ry="1.1"/>
<ellipse cx="71.38" cy="213.90" rx="1.03" ry="1.1"/>
<ellipse cx="73.43" cy="213.90" rx="1.03" ry="1.1"/>
<ellipse cx="75.48" cy="213.90" rx="1.03" ry="1.1"/>
<ellipse cx="69.33" cy="216.00" rx="1.03" ry="1.1"/>
<ellipse cx="71.38" cy="216.00" rx="1.03" ry="1.1"/>
<ellipse cx="73.43" cy="216.00" rx="1.03" ry="1.1"/>
<ellipse cx="67.28" cy="218.20" rx="1.03" ry="1.1"/>
<ellipse cx="69.33" cy="218.20" rx="1.03" ry="1.1"/>
<ellipse cx="71.38" cy="218.20" rx="1.03" ry="1.1"/>
<ellipse cx="73.43" cy="218.20" rx="1.03" ry="1.1"/>
<ellipse cx="70.36" cy="220.80" rx="1.03" ry="1.1"/>
<ellipse cx="72.41" cy="220.80" rx="1.03" ry="1.1"/>
<ellipse cx="71.38" cy="222.70" rx="1.03" ry="1.1"/>
<ellipse cx="67.28" cy="225.00" rx="1.03" ry="1.1"/>
<ellipse cx="69.33" cy="225.00" rx="1.03" ry="1.1"/>
<ellipse cx="71.38" cy="225.00" rx="1.03" ry="1.1"/>
<ellipse cx="73.43" cy="225.00" rx="1.03" ry="1.1"/>
<ellipse cx="75.48" cy="225.00" rx="1.03" ry="1.1"/>
<ellipse cx="69.33" cy="229.00" rx="1.03" ry="1.1"/>
<ellipse cx="71.38" cy="229.00" rx="1.03" ry="1.1"/>
<ellipse cx="73.43" cy="229.00" rx="1.03" ry="1.1"/>
<ellipse cx="59.63" cy="235.30" rx="1.03" ry="1.1"/>
<ellipse cx="59.63" cy="235.30" rx="1.03" ry="1.1"/>
<ellipse cx="61.13" cy="235.30" rx="1.03" ry="1.1"/>
<ellipse cx="63.18" cy="235.30" rx="1.03" ry="1.1"/>
<ellipse cx="65.23" cy="235.30" rx="1.03" ry="1.1"/>
<ellipse cx="67.28" cy="235.30" rx="1.03" ry="1.1"/>
<ellipse cx="69.33" cy="235.30" rx="1.03" ry="1.1"/>
<ellipse cx="71.38" cy="235.30" rx="1.03" ry="1.1"/>
<ellipse cx="73.43" cy="235.30" rx="1.03" ry="1.1"/>
<ellipse cx="75.48" cy="235.30" rx="1.03" ry="1.1"/>
<ellipse cx="77.53" cy="235.30" rx="1.03" ry="1.1"/>
<ellipse cx="79.58" cy="235.30" rx="1.03" ry="1.1"/>
<ellipse cx="81.63" cy="235.30" rx="1.03" ry="1.1"/>
<ellipse cx="83.14" cy="235.30" rx="1.03" ry="1.1"/>
<ellipse cx="100.77" cy="23.50" rx="1.03" ry="1.1"/>
<ellipse cx="100.27" cy="28.16" rx="1.03" ry="1.1"/>
<ellipse cx="100.77" cy="44.68" rx="1.03" ry="1.1"/>
<ellipse cx="100.77" cy="50.19" rx="1.03" ry="1.1"/>
<ellipse cx="100.77" cy="58.66" rx="1.03" ry="1.1"/>
<ellipse cx="100.77" cy="61.62" rx="1.03" ry="1.1"/>
<ellipse cx="100.77" cy="66.28" rx="1.03" ry="1.1"/>
<ellipse cx="100.77" cy="108.22" rx="1.03" ry="1.1"/>
<ellipse cx="100.77" cy="117.96" rx="1.03" ry="1.1"/>
<ellipse cx="100.77" cy="129.40" rx="1.03" ry="1.1"/>
<ellipse cx="100.77" cy="140.20" rx="1.03" ry="1.1"/>
<ellipse cx="100.77" cy="150.58" rx="1.03" ry="1.1"/>
<ellipse cx="100.77" cy="152.91" rx="1.03" ry="1.1"/>
<ellipse cx="98.72" cy="171.76" rx="1.03" ry="1.1"/>
<ellipse cx="100.77" cy="171.76" rx="1.03" ry="1.1"/>
<ellipse cx="130.16" cy="23.50" rx="1.03" ry="1.1"/>
<ellipse cx="130.16" cy="42.14" rx="1.03" ry="1.1"/>
<ellipse cx="130.16" cy="65.86" rx="1.03" ry="1.1"/>
<ellipse cx="130.16" cy="125.16" rx="1.03" ry="1.1"/>
<ellipse cx="128.11" cy="203.53" rx="1.03" ry="1.1"/>
<ellipse cx="130.16" cy="203.53" rx="1.03" ry="1.1"/>
<ellipse cx="149.29" cy="23.50" rx="1.03" ry="1.1"/>
<ellipse cx="151.34" cy="23.50" rx="1.03" ry="1.1"/>
<ellipse cx="153.39" cy="23.50" rx="1.03" ry="1.1"/>
<ellipse cx="155.44" cy="23.50" rx="1.03" ry="1.1"/>
<ellipse cx="157.49" cy="23.50" rx="1.03" ry="1.1"/>
<ellipse cx="159.54" cy="23.50" rx="1.03" ry="1.1"/>
<ellipse cx="161.59" cy="23.50" rx="1.03" ry="1.1"/>
<ellipse cx="163.64" cy="23.50" rx="1.03" ry="1.1"/>
<ellipse cx="165.69" cy="23.50" rx="1.03" ry="1.1"/>
<ellipse cx="167.74" cy="23.50" rx="1.03" ry="1.1"/>
<ellipse cx="169.79" cy="23.50" rx="1.03" ry="1.1"/>
<ellipse cx="159.54" cy="29.85" rx="1.03" ry="1.1"/>
<ellipse cx="159.54" cy="36.21" rx="1.03" ry="1.1"/>
<ellipse cx="157.49" cy="44.68" rx="1.03" ry="1.1"/>
<ellipse cx="159.54" cy="44.68" rx="1.03" ry="1.1"/>
<ellipse cx="161.59" cy="44.68" rx="1.03" ry="1.1"/>
<ellipse cx="159.54" cy="48.92" rx="1.03" ry="1.1"/>
<ellipse cx="159.54" cy="50.61" rx="1.03" ry="1.1"/>
<ellipse cx="155.44" cy="55.69" rx="1.03" ry="1.1"/>
<ellipse cx="157.49" cy="55.69" rx="1.03" ry="1.1"/>
<ellipse cx="159.54" cy="55.69" rx="1.03" ry="1.1"/>
<ellipse cx="161.59" cy="55.69" rx="1.03" ry="1.1"/>
<ellipse cx="163.64" cy="55.69" rx="1.03" ry="1.1"/>
<ellipse cx="159.54" cy="65.86" rx="1.03" ry="1.1"/>
<ellipse cx="157.49" cy="74.97" rx="1.03" ry="1.1"/>
<ellipse cx="159.54" cy="74.97" rx="1.03" ry="1.1"/>
<ellipse cx="159.54" cy="78.57" rx="1.03" ry="1.1"/>
<ellipse cx="159.54" cy="82.80" rx="1.03" ry="1.1"/>
<ellipse cx="159.54" cy="101.87" rx="1.03" ry="1.1"/>
<ellipse cx="159.54" cy="103.14" rx="1.03" ry="1.1"/>
<ellipse cx="157.49" cy="108.22" rx="1.03" ry="1.1"/>
<ellipse cx="159.54" cy="108.22" rx="1.03" ry="1.1"/>
<ellipse cx="159.54" cy="113.73" rx="1.03" ry="1.1"/>
<ellipse cx="159.54" cy="123.47" rx="1.03" ry="1.1"/>
<ellipse cx="157.49" cy="129.40" rx="1.03" ry="1.1"/>
<ellipse cx="159.54" cy="129.40" rx="1.03" ry="1.1"/>
<ellipse cx="161.59" cy="129.40" rx="1.03" ry="1.1"/>
<ellipse cx="159.54" cy="139.57" rx="1.03" ry="1.1"/>
<ellipse cx="158.52" cy="153.76" rx="1.03" ry="1.1"/>
<ellipse cx="160.57" cy="153.76" rx="1.03" ry="1.1"/>
<ellipse cx="159.54" cy="155.24" rx="1.03" ry="1.1"/>
<ellipse cx="159.54" cy="157.99" rx="1.03" ry="1.1"/>
<ellipse cx="159.54" cy="162.44" rx="1.03" ry="1.1"/>
<ellipse cx="157.49" cy="170.91" rx="1.03" ry="1.1"/>
<ellipse cx="159.54" cy="170.91" rx="1.03" ry="1.1"/>
<ellipse cx="161.59" cy="170.91" rx="1.03" ry="1.1"/>
<ellipse cx="159.54" cy="189.97" rx="1.03" ry="1.1"/>
<ellipse cx="157.49" cy="192.94" rx="1.03" ry="1.1"/>
<ellipse cx="159.54" cy="192.94" rx="1.03" ry="1.1"/>
<ellipse cx="159.54" cy="201.62" rx="1.03" ry="1.1"/>
<ellipse cx="159.54" cy="206.07" rx="1.03" ry="1.1"/>
<ellipse cx="159.54" cy="210.10" rx="1.03" ry="1.1"/>
<ellipse cx="157.49" cy="222.59" rx="1.03" ry="1.1"/>
<ellipse cx="159.54" cy="222.59" rx="1.03" ry="1.1"/>
<ellipse cx="155.44" cy="235.30" rx="1.03" ry="1.1"/>
<ellipse cx="157.49" cy="235.30" rx="1.03" ry="1.1"/>
<ellipse cx="159.54" cy="235.30" rx="1.03" ry="1.1"/>
<ellipse cx="161.59" cy="235.30" rx="1.03" ry="1.1"/>
<ellipse cx="186.88" cy="23.50" rx="1.03" ry="1.1"/>
<ellipse cx="188.93" cy="23.50" rx="1.03" ry="1.1"/>
<ellipse cx="190.98" cy="23.50" rx="1.03" ry="1.1"/>
<ellipse cx="188.93" cy="44.68" rx="1.03" ry="1.1"/>
<ellipse cx="188.93" cy="65.86" rx="1.03" ry="1.1"/>
<ellipse cx="188.93" cy="87.04" rx="1.03" ry="1.1"/>
<ellipse cx="188.93" cy="89.37" rx="1.03" ry="1.1"/>
<ellipse cx="188.93" cy="108.22" rx="1.03" ry="1.1"/>
<ellipse cx="188.93" cy="122.62" rx="1.03" ry="1.1"/>
<ellipse cx="188.93" cy="124.11" rx="1.03" ry="1.1"/>
<ellipse cx="186.88" cy="129.40" rx="1.03" ry="1.1"/>
<ellipse cx="188.93" cy="129.40" rx="1.03" ry="1.1"/>
<ellipse cx="190.98" cy="129.40" rx="1.03" ry="1.1"/>
<ellipse cx="187.91" cy="150.58" rx="1.03" ry="1.1"/>
<ellipse cx="189.96" cy="150.58" rx="1.03" ry="1.1"/>
<ellipse cx="188.93" cy="149.31" rx="1.03" ry="1.1"/>
<ellipse cx="188.93" cy="182.56" rx="1.03" ry="1.1"/>
<ellipse cx="188.93" cy="201.62" rx="1.03" ry="1.1"/>
<ellipse cx="188.93" cy="214.12" rx="1.03" ry="1.1"/>
<ellipse cx="188.93" cy="220.69" rx="1.03" ry="1.1"/>
<ellipse cx="186.88" cy="231.49" rx="1.03" ry="1.1"/>
<ellipse cx="188.93" cy="231.49" rx="1.03" ry="1.1"/>
<ellipse cx="216.27" cy="23.50" rx="1.03" ry="1.1"/>
<ellipse cx="218.32" cy="23.50" rx="1.03" ry="1.1"/>
<ellipse cx="220.37" cy="23.50" rx="1.03" ry="1.1"/>
<ellipse cx="218.32" cy="29.85" rx="1.03" ry="1.1"/>
<ellipse cx="218.32" cy="44.68" rx="1.03" ry="1.1"/>
<ellipse cx="218.32" cy="63.74" rx="1.03" ry="1.1"/>
<ellipse cx="219.02" cy="77.09" rx="1.03" ry="1.1"/>
<ellipse cx="217.52" cy="78.99" rx="1.03" ry="1.1"/>
<ellipse cx="219.02" cy="80.90" rx="1.03" ry="1.1"/>
<ellipse cx="218.32" cy="101.02" rx="1.03" ry="1.1"/>
<ellipse cx="218.32" cy="104.20" rx="1.03" ry="1.1"/>
<ellipse cx="218.32" cy="108.22" rx="1.03" ry="1.1"/>
<ellipse cx="218.32" cy="129.40" rx="1.03" ry="1.1"/>
<ellipse cx="218.32" cy="131.09" rx="1.03" ry="1.1"/>
<ellipse cx="218.32" cy="135.75" rx="1.03" ry="1.1"/>
<ellipse cx="218.32" cy="152.70" rx="1.03" ry="1.1"/>
<ellipse cx="218.32" cy="154.39" rx="1.03" ry="1.1"/>
<ellipse cx="218.32" cy="171.76" rx="1.03" ry="1.1"/>
<ellipse cx="218.32" cy="176.21" rx="1.03" ry="1.1"/>
<ellipse cx="218.32" cy="182.35" rx="1.03" ry="1.1"/>
<ellipse cx="218.32" cy="192.94" rx="1.03" ry="1.1"/>
<ellipse cx="216.27" cy="235.30" rx="1.03" ry="1.1"/>
<ellipse cx="218.32" cy="235.30" rx="1.03" ry="1.1"/>
<ellipse cx="235.95" cy="23.60" rx="1.03" ry="1.1"/>
<ellipse cx="235.95" cy="23.60" rx="1.03" ry="1.1"/>
<ellipse cx="237.46" cy="23.60" rx="1.03" ry="1.1"/>
<ellipse cx="239.51" cy="23.60" rx="1.03" ry="1.1"/>
<ellipse cx="241.56" cy="23.60" rx="1.03" ry="1.1"/>
<ellipse cx="243.61" cy="23.60" rx="1.03" ry="1.1"/>
<ellipse cx="245.66" cy="23.60" rx="1.03" ry="1.1"/>
<ellipse cx="247.71" cy="23.60" rx="1.03" ry="1.1"/>
<ellipse cx="249.76" cy="23.60" rx="1.03" ry="1.1"/>
<ellipse cx="251.81" cy="23.60" rx="1.03" ry="1.1"/>
<ellipse cx="253.86" cy="23.60" rx="1.03" ry="1.1"/>
<ellipse cx="255.91" cy="23.60" rx="1.03" ry="1.1"/>
<ellipse cx="257.96" cy="23.60" rx="1.03" ry="1.1"/>
<ellipse cx="259.46" cy="23.60" rx="1.03" ry="1.1"/>
<ellipse cx="246.68" cy="26.40" rx="1.03" ry="1.1"/>
<ellipse cx="248.73" cy="26.40" rx="1.03" ry="1.1"/>
<ellipse cx="247.88" cy="27.80" rx="1.03" ry="1.1"/>
<ellipse cx="249.93" cy="27.80" rx="1.03" ry="1.1"/>
<ellipse cx="247.71" cy="29.60" rx="1.03" ry="1.1"/>
<ellipse cx="245.66" cy="31.60" rx="1.03" ry="1.1"/>
<ellipse cx="247.71" cy="31.60" rx="1.03" ry="1.1"/>
<ellipse cx="249.76" cy="31.60" rx="1.03" ry="1.1"/>
<ellipse cx="242.58" cy="34.30" rx="1.03" ry="1.1"/>
<ellipse cx="244.63" cy="34.30" rx="1.03" ry="1.1"/>
<ellipse cx="246.68" cy="34.30" rx="1.03" ry="1.1"/>
<ellipse cx="248.73" cy="34.30" rx="1.03" ry="1.1"/>
<ellipse cx="250.78" cy="34.30" rx="1.03" ry="1.1"/>
<ellipse cx="252.83" cy="34.30" rx="1.03" ry="1.1"/>
<ellipse cx="245.66" cy="35.90" rx="1.03" ry="1.1"/>
<ellipse cx="247.71" cy="35.90" rx="1.03" ry="1.1"/>
<ellipse cx="249.76" cy="35.90" rx="1.03" ry="1.1"/>
<ellipse cx="243.61" cy="40.80" rx="1.03" ry="1.1"/>
<ellipse cx="245.66" cy="40.80" rx="1.03" ry="1.1"/>
<ellipse cx="247.71" cy="40.80" rx="1.03" ry="1.1"/>
<ellipse cx="249.76" cy="40.80" rx="1.03" ry="1.1"/>
<ellipse cx="251.81" cy="40.80" rx="1.03" ry="1.1"/>
<ellipse cx="248.18" cy="44.60" rx="1.03" ry="1.1"/>
<ellipse cx="250.23" cy="44.60" rx="1.03" ry="1.1"/>
<ellipse cx="245.63" cy="46.80" rx="1.03" ry="1.1"/>
<ellipse cx="247.68" cy="46.80" rx="1.03" ry="1.1"/>
<ellipse cx="249.73" cy="46.80" rx="1.03" ry="1.1"/>
<ellipse cx="251.78" cy="46.80" rx="1.03" ry="1.1"/>
<ellipse cx="245.66" cy="48.30" rx="1.03" ry="1.1"/>
<ellipse cx="247.71" cy="48.30" rx="1.03" ry="1.1"/>
<ellipse cx="249.76" cy="48.30" rx="1.03" ry="1.1"/>
<ellipse cx="244.63" cy="49.80" rx="1.03" ry="1.1"/>
<ellipse cx="246.68" cy="49.80" rx="1.03" ry="1.1"/>
<ellipse cx="248.73" cy="49.80" rx="1.03" ry="1.1"/>
<ellipse cx="250.78" cy="49.80" rx="1.03" ry="1.1"/>
<ellipse cx="245.66" cy="51.30" rx="1.03" ry="1.1"/>
<ellipse cx="247.71" cy="51.30" rx="1.03" ry="1.1"/>
<ellipse cx="249.76" cy="51.30" rx="1.03" ry="1.1"/>
<ellipse cx="244.63" cy="52.80" rx="1.03" ry="1.1"/>
<ellipse cx="246.68" cy="52.80" rx="1.03" ry="1.1"/>
<ellipse cx="248.73" cy="52.80" rx="1.03" ry="1.1"/>
<ellipse cx="250.78" cy="52.80" rx="1.03" ry="1.1"/>
<ellipse cx="245.66" cy="54.30" rx="1.03" ry="1.1"/>
<ellipse cx="247.71" cy="54.30" rx="1.03" ry="1.1"/>
<ellipse cx="249.76" cy="54.30" rx="1.03" ry="1.1"/>
<ellipse cx="246.68" cy="55.80" rx="1.03" ry="1.1"/>
<ellipse cx="248.73" cy="55.80" rx="1.03" ry="1.1"/>
<ellipse cx="245.66" cy="57.30" rx="1.03" ry="1.1"/>
<ellipse cx="247.71" cy="57.30" rx="1.03" ry="1.1"/>
<ellipse cx="249.76" cy="57.30" rx="1.03" ry="1.1"/>
<ellipse cx="246.68" cy="58.80" rx="1.03" ry="1.1"/>
<ellipse cx="248.73" cy="58.80" rx="1.03" ry="1.1"/>
<ellipse cx="245.66" cy="60.60" rx="1.03" ry="1.1"/>
<ellipse cx="247.71" cy="60.60" rx="1.03" ry="1.1"/>
<ellipse cx="249.76" cy="60.60" rx="1.03" ry="1.1"/>
<ellipse cx="247.71" cy="61.90" rx="1.03" ry="1.1"/>
<ellipse cx="241.56" cy="65.70" rx="1.03" ry="1.1"/>
<ellipse cx="243.61" cy="65.70" rx="1.03" ry="1.1"/>
<ellipse cx="245.66" cy="65.70" rx="1.03" ry="1.1"/>
<ellipse cx="247.71" cy="65.70" rx="1.03" ry="1.1"/>
<ellipse cx="249.76" cy="65.70" rx="1.03" ry="1.1"/>
<ellipse cx="251.81" cy="65.70" rx="1.03" ry="1.1"/>
<ellipse cx="247.71" cy="70.20" rx="1.03" ry="1.1"/>
<ellipse cx="245.66" cy="74.70" rx="1.03" ry="1.1"/>
<ellipse cx="247.71" cy="74.70" rx="1.03" ry="1.1"/>
<ellipse cx="235.95" cy="76.70" rx="1.03" ry="1.1"/>
<ellipse cx="236.43" cy="76.70" rx="1.03" ry="1.1"/>
<ellipse cx="238.48" cy="76.70" rx="1.03" ry="1.1"/>
<ellipse cx="240.53" cy="76.70" rx="1.03" ry="1.1"/>
<ellipse cx="242.58" cy="76.70" rx="1.03" ry="1.1"/>
<ellipse cx="244.63" cy="76.70" rx="1.03" ry="1.1"/>
<ellipse cx="246.68" cy="76.70" rx="1.03" ry="1.1"/>
<ellipse cx="248.73" cy="76.70" rx="1.03" ry="1.1"/>
<ellipse cx="250.78" cy="76.70" rx="1.03" ry="1.1"/>
<ellipse cx="252.83" cy="76.70" rx="1.03" ry="1.1"/>
<ellipse cx="254.88" cy="76.70" rx="1.03" ry="1.1"/>
<ellipse cx="256.93" cy="76.70" rx="1.03" ry="1.1"/>
<ellipse cx="258.98" cy="76.70" rx="1.03" ry="1.1"/>
<ellipse cx="259.46" cy="76.70" rx="1.03" ry="1.1"/>
<ellipse cx="245.66" cy="78.30" rx="1.03" ry="1.1"/>
<ellipse cx="247.71" cy="78.30" rx="1.03" ry="1.1"/>
<ellipse cx="249.76" cy="78.30" rx="1.03" ry="1.1"/>
<ellipse cx="246.68" cy="79.80" rx="1.03" ry="1.1"/>
<ellipse cx="248.73" cy="79.80" rx="1.03" ry="1.1"/>
<ellipse cx="247.71" cy="81.60" rx="1.03" ry="1.1"/>
<ellipse cx="248.51" cy="83.20" rx="1.03" ry="1.1"/>
<ellipse cx="242.61" cy="86.80" rx="1.03" ry="1.1"/>
<ellipse cx="244.66" cy="86.80" rx="1.03" ry="1.1"/>
<ellipse cx="246.71" cy="86.80" rx="1.03" ry="1.1"/>
<ellipse cx="248.76" cy="86.80" rx="1.03" ry="1.1"/>
<ellipse cx="250.81" cy="86.80" rx="1.03" ry="1.1"/>
<ellipse cx="241.56" cy="91.40" rx="1.03" ry="1.1"/>
<ellipse cx="243.61" cy="91.40" rx="1.03" ry="1.1"/>
<ellipse cx="245.66" cy="91.40" rx="1.03" ry="1.1"/>
<ellipse cx="247.71" cy="91.40" rx="1.03" ry="1.1"/>
<ellipse cx="249.76" cy="91.40" rx="1.03" ry="1.1"/>
<ellipse cx="251.81" cy="91.40" rx="1.03" ry="1.1"/>
<ellipse cx="245.18" cy="94.60" rx="1.03" ry="1.1"/>
<ellipse cx="247.23" cy="94.60" rx="1.03" ry="1.1"/>
<ellipse cx="248.18" cy="95.60" rx="1.03" ry="1.1"/>
<ellipse cx="250.23" cy="95.60" rx="1.03" ry="1.1"/>
<ellipse cx="247.71" cy="97.20" rx="1.03" ry="1.1"/>
<ellipse cx="245.66" cy="99.80" rx="1.03" ry="1.1"/>
<ellipse cx="247.71" cy="99.80" rx="1.03" ry="1.1"/>
<ellipse cx="249.76" cy="99.80" rx="1.03" ry="1.1"/>
<ellipse cx="247.71" cy="101.00" rx="1.03" ry="1.1"/>
<ellipse cx="248.46" cy="102.30" rx="1.03" ry="1.1"/>
<ellipse cx="246.96" cy="103.60" rx="1.03" ry="1.1"/>
<ellipse cx="248.46" cy="104.90" rx="1.03" ry="1.1"/>
<ellipse cx="237.21" cy="106.40" rx="1.03" ry="1.1"/>
<ellipse cx="239.11" cy="107.20" rx="1.03" ry="1.1"/>
<ellipse cx="239.48" cy="108.10" rx="1.03" ry="1.1"/>
<ellipse cx="241.53" cy="108.10" rx="1.03" ry="1.1"/>
<ellipse cx="243.58" cy="108.10" rx="1.03" ry="1.1"/>
<ellipse cx="245.63" cy="108.10" rx="1.03" ry="1.1"/>
<ellipse cx="247.68" cy="108.10" rx="1.03" ry="1.1"/>
<ellipse cx="249.73" cy="108.10" rx="1.03" ry="1.1"/>
<ellipse cx="251.78" cy="108.10" rx="1.03" ry="1.1"/>
<ellipse cx="253.83" cy="108.10" rx="1.03" ry="1.1"/>
<ellipse cx="255.88" cy="108.10" rx="1.03" ry="1.1"/>
<ellipse cx="257.93" cy="108.10" rx="1.03" ry="1.1"/>
<ellipse cx="248.46" cy="110.30" rx="1.03" ry="1.1"/>
<ellipse cx="246.96" cy="111.55" rx="1.03" ry="1.1"/>
<ellipse cx="248.46" cy="112.80" rx="1.03" ry="1.1"/>
<ellipse cx="246.96" cy="114.05" rx="1.03" ry="1.1"/>
<ellipse cx="246.68" cy="116.80" rx="1.03" ry="1.1"/>
<ellipse cx="248.73" cy="116.80" rx="1.03" ry="1.1"/>
<ellipse cx="245.66" cy="118.00" rx="1.03" ry="1.1"/>
<ellipse cx="247.71" cy="118.00" rx="1.03" ry="1.1"/>
<ellipse cx="249.76" cy="118.00" rx="1.03" ry="1.1"/>
<ellipse cx="246.68" cy="119.20" rx="1.03" ry="1.1"/>
<ellipse cx="248.73" cy="119.20" rx="1.03" ry="1.1"/>
<ellipse cx="247.71" cy="120.40" rx="1.03" ry="1.1"/>
<ellipse cx="248.46" cy="122.50" rx="1.03" ry="1.1"/>
<ellipse cx="246.96" cy="123.80" rx="1.03" ry="1.1"/>
<ellipse cx="248.46" cy="125.10" rx="1.03" ry="1.1"/>
<ellipse cx="246.96" cy="126.40" rx="1.03" ry="1.1"/>
<ellipse cx="239.51" cy="129.80" rx="1.03" ry="1.1"/>
<ellipse cx="241.56" cy="129.80" rx="1.03" ry="1.1"/>
<ellipse cx="243.61" cy="129.80" rx="1.03" ry="1.1"/>
<ellipse cx="245.66" cy="129.80" rx="1.03" ry="1.1"/>
<ellipse cx="247.71" cy="129.80" rx="1.03" ry="1.1"/>
<ellipse cx="249.76" cy="129.80" rx="1.03" ry="1.1"/>
<ellipse cx="251.81" cy="129.80" rx="1.03" ry="1.1"/>
<ellipse cx="253.86" cy="129.80" rx="1.03" ry="1.1"/>
<ellipse cx="247.71" cy="134.00" rx="1.03" ry="1.1"/>
<ellipse cx="247.68" cy="141.80" rx="1.03" ry="1.1"/>
<ellipse cx="249.73" cy="141.80" rx="1.03" ry="1.1"/>
<ellipse cx="247.01" cy="143.60" rx="1.03" ry="1.1"/>
<ellipse cx="248.41" cy="144.90" rx="1.03" ry="1.1"/>
<ellipse cx="247.01" cy="146.20" rx="1.03" ry="1.1"/>
<ellipse cx="245.66" cy="148.60" rx="1.03" ry="1.1"/>
<ellipse cx="247.71" cy="148.60" rx="1.03" ry="1.1"/>
<ellipse cx="243.61" cy="150.80" rx="1.03" ry="1.1"/>
<ellipse cx="245.66" cy="150.80" rx="1.03" ry="1.1"/>
<ellipse cx="247.71" cy="150.80" rx="1.03" ry="1.1"/>
<ellipse cx="249.76" cy="150.80" rx="1.03" ry="1.1"/>
<ellipse cx="251.81" cy="150.80" rx="1.03" ry="1.1"/>
<ellipse cx="247.01" cy="152.60" rx="1.03" ry="1.1"/>
<ellipse cx="248.41" cy="153.88" rx="1.03" ry="1.1"/>
<ellipse cx="247.01" cy="155.16" rx="1.03" ry="1.1"/>
<ellipse cx="248.41" cy="156.44" rx="1.03" ry="1.1"/>
<ellipse cx="247.01" cy="157.72" rx="1.03" ry="1.1"/>
<ellipse cx="248.41" cy="159.00" rx="1.03" ry="1.1"/>
<ellipse cx="250.11" cy="154.80" rx="1.03" ry="1.1"/>
<ellipse cx="247.68" cy="165.60" rx="1.03" ry="1.1"/>
<ellipse cx="249.73" cy="165.60" rx="1.03" ry="1.1"/>
<ellipse cx="246.91" cy="167.50" rx="1.03" ry="1.1"/>
<ellipse cx="247.71" cy="169.40" rx="1.03" ry="1.1"/>
<ellipse cx="240.53" cy="171.70" rx="1.03" ry="1.1"/>
<ellipse cx="242.58" cy="171.70" rx="1.03" ry="1.1"/>
<ellipse cx="244.63" cy="171.70" rx="1.03" ry="1.1"/>
<ellipse cx="246.68" cy="171.70" rx="1.03" ry="1.1"/>
<ellipse cx="248.73" cy="171.70" rx="1.03" ry="1.1"/>
<ellipse cx="250.78" cy="171.70" rx="1.03" ry="1.1"/>
<ellipse cx="252.83" cy="171.70" rx="1.03" ry="1.1"/>
<ellipse cx="254.88" cy="171.70" rx="1.03" ry="1.1"/>
<ellipse cx="247.71" cy="173.00" rx="1.03" ry="1.1"/>
<ellipse cx="239.51" cy="182.40" rx="1.03" ry="1.1"/>
<ellipse cx="241.56" cy="182.40" rx="1.03" ry="1.1"/>
<ellipse cx="243.61" cy="182.40" rx="1.03" ry="1.1"/>
<ellipse cx="245.66" cy="182.40" rx="1.03" ry="1.1"/>
<ellipse cx="247.71" cy="182.40" rx="1.03" ry="1.1"/>
<ellipse cx="249.76" cy="182.40" rx="1.03" ry="1.1"/>
<ellipse cx="251.81" cy="182.40" rx="1.03" ry="1.1"/>
<ellipse cx="253.86" cy="182.40" rx="1.03" ry="1.1"/>
<ellipse cx="255.91" cy="182.40" rx="1.03" ry="1.1"/>
<ellipse cx="247.71" cy="187.20" rx="1.03" ry="1.1"/>
<ellipse cx="247.71" cy="189.20" rx="1.03" ry="1.1"/>
<ellipse cx="241.56" cy="192.90" rx="1.03" ry="1.1"/>
<ellipse cx="243.61" cy="192.90" rx="1.03" ry="1.1"/>
<ellipse cx="245.66" cy="192.90" rx="1.03" ry="1.1"/>
<ellipse cx="247.71" cy="192.90" rx="1.03" ry="1.1"/>
<ellipse cx="249.76" cy="192.90" rx="1.03" ry="1.1"/>
<ellipse cx="251.81" cy="192.90" rx="1.03" ry="1.1"/>
<ellipse cx="253.86" cy="192.90" rx="1.03" ry="1.1"/>
<ellipse cx="255.31" cy="191.60" rx="1.03" ry="1.1"/>
<ellipse cx="243.61" cy="203.90" rx="1.03" ry="1.1"/>
<ellipse cx="245.66" cy="203.90" rx="1.03" ry="1.1"/>
<ellipse cx="247.71" cy="203.90" rx="1.03" ry="1.1"/>
<ellipse cx="249.76" cy="203.90" rx="1.03" ry="1.1"/>
<ellipse cx="251.81" cy="203.90" rx="1.03" ry="1.1"/>
<ellipse cx="247.71" cy="206.20" rx="1.03" ry="1.1"/>
<ellipse cx="247.71" cy="209.10" rx="1.03" ry="1.1"/>
<ellipse cx="243.61" cy="214.20" rx="1.03" ry="1.1"/>
<ellipse cx="245.66" cy="214.20" rx="1.03" ry="1.1"/>
<ellipse cx="247.71" cy="214.20" rx="1.03" ry="1.1"/>
<ellipse cx="249.76" cy="214.20" rx="1.03" ry="1.1"/>
<ellipse cx="247.68" cy="218.20" rx="1.03" ry="1.1"/>
<ellipse cx="249.73" cy="218.20" rx="1.03" ry="1.1"/>
<ellipse cx="247.11" cy="220.80" rx="1.03" ry="1.1"/>
<ellipse cx="247.71" cy="222.70" rx="1.03" ry="1.1"/>
<ellipse cx="241.56" cy="225.00" rx="1.03" ry="1.1"/>
<ellipse cx="243.61" cy="225.00" rx="1.03" ry="1.1"/>
<ellipse cx="245.66" cy="225.00" rx="1.03" ry="1.1"/>
<ellipse cx="247.71" cy="225.00" rx="1.03" ry="1.1"/>
<ellipse cx="249.76" cy="225.00" rx="1.03" ry="1.1"/>
<ellipse cx="251.81" cy="225.00" rx="1.03" ry="1.1"/>
<ellipse cx="253.86" cy="225.00" rx="1.03" ry="1.1"/>
<ellipse cx="246.18" cy="226.60" rx="1.03" ry="1.1"/>
<ellipse cx="248.23" cy="226.60" rx="1.03" ry="1.1"/>
<ellipse cx="245.66" cy="230.70" rx="1.03" ry="1.1"/>
<ellipse cx="247.71" cy="230.70" rx="1.03" ry="1.1"/>
<ellipse cx="235.95" cy="235.30" rx="1.03" ry="1.1"/>
<ellipse cx="235.95" cy="235.30" rx="1.03" ry="1.1"/>
<ellipse cx="237.46" cy="235.30" rx="1.03" ry="1.1"/>
<ellipse cx="239.51" cy="235.30" rx="1.03" ry="1.1"/>
<ellipse cx="241.56" cy="235.30" rx="1.03" ry="1.1"/>
<ellipse cx="243.61" cy="235.30" rx="1.03" ry="1.1"/>
<ellipse cx="245.66" cy="235.30" rx="1.03" ry="1.1"/>
<ellipse cx="247.71" cy="235.30" rx="1.03" ry="1.1"/>
<ellipse cx="249.76" cy="235.30" rx="1.03" ry="1.1"/>
<ellipse cx="251.81" cy="235.30" rx="1.03" ry="1.1"/>
<ellipse cx="253.86" cy="235.30" rx="1.03" ry="1.1"/>
<ellipse cx="255.91" cy="235.30" rx="1.03" ry="1.1"/>
<ellipse cx="257.96" cy="235.30" rx="1.03" ry="1.1"/>
<ellipse cx="259.46" cy="235.30" rx="1.03" ry="1.1"/>
</g>
<g font-family="'DejaVu Sans','Liberation Sans',sans-serif" font-size="8.2" fill="#262626">
<text transform="translate(25.2 238.30) scale(0.865 1)" text-anchor="end">0</text>
<text transform="translate(25.2 195.94) scale(0.865 1)" text-anchor="end">20</text>
<text transform="translate(25.2 153.58) scale(0.865 1)" text-anchor="end">40</text>
<text transform="translate(25.2 111.22) scale(0.865 1)" text-anchor="end">60</text>
<text transform="translate(25.2 68.86) scale(0.865 1)" text-anchor="end">80</text>
<text transform="translate(25.2 26.50) scale(0.865 1)" text-anchor="end">100</text>
<text transform="translate(7.3 130.5) rotate(-90) scale(1 0.9)" text-anchor="middle" font-size="8.4" textLength="95.4" lengthAdjust="spacingAndGlyphs">Survival percentage %</text>
</g>
<g font-family="'Liberation Sans',sans-serif" font-size="10" text-rendering="geometricPrecision" fill="#000" stroke="#000" stroke-width="0.2">
<text transform="translate(35.2 263.95) scale(1 0.93)" textLength="15.7" lengthAdjust="spacingAndGlyphs">SM</text>
<text transform="translate(66.1 263.95) scale(1 0.93)" textLength="12.0" lengthAdjust="spacingAndGlyphs">CF</text>
<text transform="translate(93.1 263.95) scale(1 0.93)" textLength="19.8" lengthAdjust="spacingAndGlyphs">ANF</text>
<text transform="translate(119.6 263.95) scale(1 0.93)" textLength="23.3" lengthAdjust="spacingAndGlyphs">CWC</text>
<text transform="translate(150.2 263.95) scale(1 0.93)" textLength="17.2" lengthAdjust="spacingAndGlyphs">MG</text>
<text transform="translate(180.1 263.95) scale(1 0.93)" textLength="17.5" lengthAdjust="spacingAndGlyphs">ALF</text>
<text transform="translate(212.2 263.95) scale(1 0.93)" textLength="14.0" lengthAdjust="spacingAndGlyphs">OB</text>
<text transform="translate(241.4 263.95) scale(1 0.93)" textLength="12.4" lengthAdjust="spacingAndGlyphs">SG</text>
</g>
</g>
<text transform="translate(272.6 8.05) scale(1 0.945)" text-rendering="geometricPrecision" font-family="'Liberation Sans',sans-serif" font-size="10" fill="#000" stroke="#000" stroke-width="0.15" textLength="48.8" lengthAdjust="spacingAndGlyphs">Ecosystem</text>
<g filter="url(#sh)" fill="#000" opacity="0.45">
<rect x="284" y="25" width="33.5" height="213"/>
</g>
<g clip-path="url(#pc0)">
<rect x="280.9" y="21.4" width="34.1" height="21.6" fill="#9e6c2c" opacity="1"/>
<g filter="url(#b1)">
<rect x="280.9" y="21.4" width="15.3" height="6.5" fill="#8e7034" opacity="0.8"/>
<ellipse cx="290.4" cy="33.3" rx="7.0" ry="5.0" fill="#ba742c" opacity="0.85"/>
<ellipse cx="285.0" cy="40.8" rx="6.0" ry="3.0" fill="#6a4420" opacity="0.9"/>
<ellipse cx="306.5" cy="27.9" rx="7.0" ry="5.0" fill="#b48a3c" opacity="0.8"/>
<ellipse cx="301.4" cy="39.8" rx="8.0" ry="3.5" fill="#80542a" opacity="0.7"/>
<ellipse cx="311.6" cy="34.4" rx="3.5" ry="8.0" fill="#c6a258" opacity="0.7"/>
<ellipse cx="296.2" cy="24.6" rx="6.0" ry="2.5" fill="#7a5a28" opacity="0.5"/>
</g>
<rect x="280.9" y="21.4" width="34.10" height="21.60" filter="url(#n1)" opacity="0.85"/>
<rect x="280.9" y="21.4" width="34.10" height="21.60" filter="url(#n2)" opacity="0.6"/>
<rect x="280.9" y="21.4" width="34.10" height="21.60" filter="url(#n3)" opacity="0.5"/>
</g>
<g clip-path="url(#pc1)">
<rect x="280.7" y="43.0" width="34.3" height="27.2" fill="#586858" opacity="1"/>
<g filter="url(#b1)">
<rect x="280.7" y="43.0" width="34.3" height="4.1" fill="#74c4ee" opacity="1"/>
<rect x="280.7" y="45.7" width="5.8" height="24.5" fill="#3a9ae2" opacity="1"/>
<ellipse cx="299.6" cy="59.9" rx="9.0" ry="6.0" fill="#4a5448" opacity="1"/>
<ellipse cx="284.1" cy="68.0" rx="6.0" ry="3.0" fill="#4aa8e8" opacity="1"/>
<ellipse cx="292.4" cy="55.2" rx="5.5" ry="5.0" fill="#2c3c44" opacity="1"/>
<ellipse cx="298.5" cy="50.1" rx="8.0" ry="3.0" fill="#8a8a48" opacity="1"/>
<ellipse cx="302.0" cy="48.4" rx="4.0" ry="1.6" fill="#c8d0c8" opacity="0.8"/>
<ellipse cx="291.0" cy="49.0" rx="3.5" ry="1.8" fill="#7a8a68" opacity="1"/>
<ellipse cx="308.8" cy="52.8" rx="6.0" ry="6.0" fill="#98943a" opacity="1"/>
<ellipse cx="311.6" cy="63.4" rx="5.0" ry="5.5" fill="#8c8a38" opacity="1"/>
<ellipse cx="303.3" cy="59.3" rx="4.5" ry="3.0" fill="#343c2c" opacity="1"/>
<ellipse cx="298.5" cy="55.2" rx="4.2" ry="2.4" fill="#e6ecec" opacity="1"/>
<ellipse cx="294.4" cy="51.2" rx="3.0" ry="1.5" fill="#c8d4d8" opacity="0.8"/>
<ellipse cx="288.9" cy="52.0" rx="2.6" ry="1.4" fill="#a88c94" opacity="1"/>
<ellipse cx="295.4" cy="64.8" rx="8.5" ry="4.6" fill="#caa89a" opacity="1"/>
<ellipse cx="304.7" cy="59.9" rx="2.6" ry="1.8" fill="#c2b234" opacity="1"/>
<ellipse cx="302.0" cy="68.3" rx="6.0" ry="1.6" fill="#5a5248" opacity="1"/>
<ellipse cx="314.0" cy="48.4" rx="2.0" ry="3.0" fill="#d8d070" opacity="1"/>
</g>
<rect x="280.7" y="43.0" width="34.30" height="27.20" filter="url(#n4)" opacity="0.4"/>
<rect x="280.7" y="43.0" width="34.30" height="27.20" filter="url(#n5)" opacity="0.2"/>
</g>
<g clip-path="url(#pc2)">
<rect x="280.7" y="70.2" width="34.3" height="27.0" fill="#1c2a48" opacity="1"/>
<g filter="url(#b1)">
<ellipse cx="297.9" cy="82.6" rx="14.0" ry="10.5" fill="#b0284c" opacity="1"/>
<ellipse cx="296.1" cy="78.3" rx="9.5" ry="5.5" fill="#c6386a" opacity="1"/>
<ellipse cx="306.4" cy="72.9" rx="8.0" ry="3.5" fill="#bc345a" opacity="1"/>
<ellipse cx="290.3" cy="86.9" rx="6.5" ry="5.0" fill="#84203c" opacity="1"/>
<ellipse cx="299.6" cy="93.2" rx="9.0" ry="3.2" fill="#a42c4c" opacity="1"/>
<ellipse cx="314.0" cy="85.1" rx="2.2" ry="9.0" fill="#d4b090" opacity="1"/>
<ellipse cx="312.6" cy="91.3" rx="2.8" ry="3.5" fill="#e27c2a" opacity="1"/>
<ellipse cx="311.9" cy="80.5" rx="2.2" ry="2.6" fill="#e48c40" opacity="1"/>
<ellipse cx="284.1" cy="94.5" rx="5.5" ry="3.2" fill="#747e86" opacity="1"/>
<ellipse cx="282.1" cy="74.2" rx="3.5" ry="5.5" fill="#15213c" opacity="1"/>
<ellipse cx="307.5" cy="95.0" rx="4.5" ry="1.8" fill="#c87058" opacity="1"/>
<ellipse cx="284.1" cy="85.1" rx="2.5" ry="4.0" fill="#1a2440" opacity="1"/>
</g>
<rect x="280.7" y="70.2" width="34.30" height="27.00" filter="url(#n6)" opacity="0.3"/>
<rect x="280.7" y="70.2" width="34.30" height="27.00" filter="url(#n7)" opacity="0.25"/>
</g>
<g clip-path="url(#pc3)">
<rect x="279.8" y="97.2" width="34.3" height="27.4" fill="#08262c" opacity="1"/>
<g filter="url(#b1)">
<ellipse cx="294.2" cy="111.4" rx="11.5" ry="12.0" fill="#94b2ba" opacity="1"/>
<ellipse cx="293.5" cy="108.2" rx="7.5" ry="8.0" fill="#d8e6ea" opacity="1"/>
<ellipse cx="297.6" cy="116.9" rx="7.0" ry="5.5" fill="#dceaee" opacity="1"/>
<ellipse cx="286.7" cy="112.3" rx="4.0" ry="6.0" fill="#a8c6ce" opacity="1"/>
<ellipse cx="308.3" cy="115.0" rx="4.5" ry="5.5" fill="#a0bcc4" opacity="1"/>
<ellipse cx="290.1" cy="121.9" rx="7.0" ry="2.6" fill="#bcd4dc" opacity="1"/>
<ellipse cx="302.8" cy="108.7" rx="1.6" ry="5.0" fill="#10323a" opacity="1"/>
<ellipse cx="312.4" cy="103.2" rx="5.0" ry="7.0" fill="#06222a" opacity="1"/>
<ellipse cx="281.2" cy="100.5" rx="3.5" ry="5.0" fill="#082a30" opacity="1"/>
<ellipse cx="300.4" cy="100.5" rx="3.0" ry="2.5" fill="#9ab8c0" opacity="1"/>
</g>
<rect x="279.8" y="97.2" width="34.30" height="27.40" filter="url(#n8)" opacity="0.38"/>
<rect x="279.8" y="97.2" width="34.30" height="27.40" filter="url(#n9)" opacity="0.25"/>
</g>
<g clip-path="url(#pc4)">
<rect x="279.8" y="124.6" width="34.1" height="27.3" fill="#4c8c2c" opacity="1"/>
<g filter="url(#b1)">
<rect x="279.8" y="124.6" width="34.1" height="12.3" fill="#68b830" opacity="1"/>
<ellipse cx="289.3" cy="130.1" rx="6.0" ry="4.0" fill="#80d038" opacity="1"/>
<ellipse cx="306.4" cy="130.6" rx="7.0" ry="4.0" fill="#72c432" opacity="1"/>
<ellipse cx="290.0" cy="130.1" rx="1.1" ry="5.5" fill="#4a4428" opacity="0.9" transform="rotate(-28 290.0 130.1)"/>
<ellipse cx="303.0" cy="127.9" rx="0.9" ry="4.0" fill="#4c5a30" opacity="0.9"/>
<rect x="279.8" y="136.6" width="25.2" height="9.3" fill="#62544a" opacity="1"/>
<ellipse cx="293.4" cy="141.0" rx="8.0" ry="2.6" fill="#9a8c7c" opacity="1"/>
<ellipse cx="284.6" cy="138.8" rx="4.0" ry="2.0" fill="#383224" opacity="1"/>
<ellipse cx="292.1" cy="134.4" rx="5.0" ry="1.5" fill="#3a3426" opacity="1"/>
<ellipse cx="309.8" cy="141.5" rx="5.0" ry="6.5" fill="#7cd236" opacity="1"/>
<ellipse cx="307.1" cy="137.2" rx="4.0" ry="3.0" fill="#8cdc40" opacity="1"/>
<rect x="279.8" y="145.9" width="34.1" height="6.0" fill="#3a6a2a" opacity="1"/>
<ellipse cx="290.0" cy="149.2" rx="6.0" ry="2.2" fill="#4e7e3a" opacity="1"/>
</g>
<rect x="279.8" y="124.6" width="34.10" height="27.30" filter="url(#n10)" opacity="0.3"/>
<rect x="279.8" y="124.6" width="34.10" height="27.30" filter="url(#n11)" opacity="0.28"/>
</g>
<g clip-path="url(#pc5)">
<rect x="280.7" y="151.9" width="34.3" height="27.0" fill="#1a3c8c" opacity="1"/>
<g filter="url(#b1)">
<rect x="280.7" y="151.9" width="8.6" height="21.6" fill="#2a6ee2" opacity="1"/>
<rect x="304.7" y="158.7" width="10.3" height="16.2" fill="#162f74" opacity="1"/>
<ellipse cx="308.1" cy="154.6" rx="8.5" ry="3.4" fill="#a0a828" opacity="1"/>
<ellipse cx="291.0" cy="154.1" rx="6.0" ry="1.8" fill="#4c7a5a" opacity="1"/>
<ellipse cx="291.0" cy="163.2" rx="7.0" ry="5.0" fill="#3a3014" opacity="1"/>
<ellipse cx="302.0" cy="163.2" rx="7.5" ry="5.5" fill="#40320f" opacity="1"/>
<ellipse cx="297.9" cy="160.0" rx="6.0" ry="2.5" fill="#2c3a50" opacity="1"/>
<ellipse cx="296.5" cy="167.0" rx="4.0" ry="3.6" fill="#86681c" opacity="1"/>
<ellipse cx="295.1" cy="171.9" rx="0.8" ry="4.5" fill="#a89024" opacity="1"/>
<ellipse cx="305.4" cy="171.9" rx="0.8" ry="4.5" fill="#8e7e22" opacity="1"/>
<ellipse cx="310.9" cy="165.4" rx="3.6" ry="6.0" fill="#2a4a98" opacity="1"/>
<rect x="280.7" y="174.0" width="34.3" height="4.9" fill="#6c4a74" opacity="1"/>
<ellipse cx="295.1" cy="176.7" rx="7.0" ry="1.8" fill="#b86c94" opacity="1"/>
<ellipse cx="284.1" cy="175.7" rx="4.0" ry="2.6" fill="#38489a" opacity="1"/>
<ellipse cx="309.9" cy="176.2" rx="4.0" ry="2.0" fill="#5a4a8a" opacity="1"/>
</g>
<rect x="280.7" y="151.9" width="34.30" height="27.00" filter="url(#n12)" opacity="0.45"/>
<rect x="280.7" y="151.9" width="34.30" height="27.00" filter="url(#n13)" opacity="0.2"/>
</g>
<g clip-path="url(#pc6)">
<rect x="280.7" y="178.9" width="34.3" height="27.3" fill="#969e3a" opacity="1"/>
<g filter="url(#b1)">
<rect x="280.7" y="178.9" width="34.3" height="7.4" fill="#8cb884" opacity="1"/>
<ellipse cx="310.2" cy="184.4" rx="8.0" ry="5.2" fill="#b2d8a8" opacity="1"/>
<ellipse cx="287.6" cy="181.1" rx="6.5" ry="2.0" fill="#5c9858" opacity="1"/>
<ellipse cx="291.0" cy="193.1" rx="7.0" ry="6.0" fill="#a8ac3e" opacity="1"/>
<ellipse cx="301.3" cy="192.6" rx="6.0" ry="6.0" fill="#a0a636" opacity="1"/>
<ellipse cx="309.9" cy="195.8" rx="5.0" ry="5.0" fill="#8e9c38" opacity="1"/>
<ellipse cx="284.8" cy="201.8" rx="5.0" ry="3.6" fill="#5c6e22" opacity="1"/>
<ellipse cx="297.9" cy="200.2" rx="4.0" ry="2.6" fill="#60701f" opacity="1"/>
<ellipse cx="296.1" cy="187.9" rx="3.0" ry="2.6" fill="#c2c456" opacity="1"/>
<ellipse cx="292.0" cy="197.5" rx="2.2" ry="2.8" fill="#4e5e1c" opacity="1"/>
<ellipse cx="305.4" cy="198.0" rx="2.2" ry="3.0" fill="#56641e" opacity="1"/>
<ellipse cx="286.9" cy="191.2" rx="1.8" ry="2.6" fill="#5a6a22" opacity="1"/>
<ellipse cx="302.3" cy="202.9" rx="2.6" ry="1.8" fill="#d8882a" opacity="1"/>
<ellipse cx="310.5" cy="194.2" rx="1.1" ry="1.1" fill="#d87c2a" opacity="1"/>
<ellipse cx="312.3" cy="204.0" rx="4.0" ry="2.3" fill="#4e6e2c" opacity="1"/>
</g>
<rect x="280.7" y="178.9" width="34.30" height="27.30" filter="url(#n14)" opacity="0.45"/>
<rect x="280.7" y="178.9" width="34.30" height="27.30" filter="url(#n15)" opacity="0.3"/>
</g>
<g clip-path="url(#pc7)">
<rect x="280.6" y="206.2" width="33.9" height="27.2" fill="#5c9c48" opacity="1"/>
<g filter="url(#b1)">
<rect x="280.6" y="206.2" width="33.9" height="1.9" fill="#3cba9e" opacity="1"/>
<rect x="280.6" y="208.9" width="33.9" height="10.9" fill="#4c9e3c" opacity="1"/>
<ellipse cx="297.6" cy="214.4" rx="14.0" ry="2.4" fill="#78b048" opacity="1"/>
<ellipse cx="297.6" cy="222.0" rx="17.0" ry="2.8" fill="#7c8a62" opacity="1"/>
<ellipse cx="306.0" cy="224.7" rx="8.0" ry="2.6" fill="#a0a898" opacity="1"/>
<ellipse cx="288.1" cy="223.6" rx="6.5" ry="2.2" fill="#66845a" opacity="1"/>
<rect x="280.6" y="227.1" width="33.9" height="6.3" fill="#a2ded6" opacity="1"/>
<ellipse cx="291.4" cy="229.6" rx="8.0" ry="2.2" fill="#e0f6f2" opacity="1"/>
<ellipse cx="307.7" cy="231.5" rx="6.0" ry="1.8" fill="#86d2ca" opacity="1"/>
<ellipse cx="283.3" cy="232.0" rx="3.0" ry="1.5" fill="#62c8c0" opacity="1"/>
</g>
<rect x="280.6" y="206.2" width="33.90" height="27.20" filter="url(#n16)" opacity="0.25"/>
<rect x="280.6" y="206.2" width="33.90" height="27.20" filter="url(#n17)" opacity="0.22"/>
</g>
<g id="bars">
<rect x="392.5" y="18.00" width="277.14" height="13.9" fill="#1000ff"/>
<rect x="392.5" y="46.08" width="260.03" height="13.9" fill="#1000ff"/>
<rect x="392.5" y="74.17" width="255.94" height="13.9" fill="#1000ff"/>
<rect x="392.5" y="102.25" width="248.50" height="13.9" fill="#1000ff"/>
<rect x="392.5" y="130.34" width="233.99" height="13.9" fill="#1000ff"/>
<rect x="392.5" y="158.43" width="220.60" height="13.9" fill="#1000ff"/>
<rect x="392.5" y="186.51" width="210.55" height="13.9" fill="#1000ff"/>
<rect x="392.5" y="214.59" width="207.95" height="13.9" fill="#1000ff"/>
<rect x="392.5" y="11.5" width="291.50" height="223.55" fill="none" stroke="#111" stroke-width="0.9"/>
<path d="M392.5 25.40h-3.2" stroke="#000" stroke-width="0.95"/>
<path d="M392.5 53.48h-3.2" stroke="#000" stroke-width="0.95"/>
<path d="M392.5 81.57h-3.2" stroke="#000" stroke-width="0.95"/>
<path d="M392.5 109.66h-3.2" stroke="#000" stroke-width="0.95"/>
<path d="M392.5 137.74h-3.2" stroke="#000" stroke-width="0.95"/>
<path d="M392.5 165.82h-3.2" stroke="#000" stroke-width="0.95"/>
<path d="M392.5 193.91h-3.2" stroke="#000" stroke-width="0.95"/>
<path d="M392.5 221.99h-3.2" stroke="#000" stroke-width="0.95"/>
<path d="M392.50 235.05v3" stroke="#000" stroke-width="0.7"/>
<path d="M429.70 235.05v3" stroke="#000" stroke-width="0.7"/>
<path d="M466.90 235.05v3" stroke="#000" stroke-width="0.7"/>
<path d="M504.10 235.05v3" stroke="#000" stroke-width="0.7"/>
<path d="M541.30 235.05v3" stroke="#000" stroke-width="0.7"/>
<path d="M578.50 235.05v3" stroke="#000" stroke-width="0.7"/>
<path d="M615.70 235.05v3" stroke="#000" stroke-width="0.7"/>
<path d="M652.90 235.05v3" stroke="#000" stroke-width="0.7"/>
<g font-family="'DejaVu Sans','Liberation Sans',sans-serif" font-size="9.3" fill="#000">
<text transform="translate(386.6 28.95) scale(0.877 1)" text-anchor="end">saltmarshes</text>
<text transform="translate(386.6 57.03) scale(0.877 1)" text-anchor="end">coral reefs</text>
<text transform="translate(386.6 85.12) scale(0.877 1)" text-anchor="end">animal forests</text>
<text transform="translate(386.6 113.20) scale(0.877 1)" text-anchor="end">cold water corals</text>
<text transform="translate(386.6 141.29) scale(0.877 1)" text-anchor="end">mangroves</text>
<text transform="translate(386.6 169.38) scale(0.877 1)" text-anchor="end">algal forests</text>
<text transform="translate(386.6 197.46) scale(0.877 1)" text-anchor="end">oyster beds</text>
<text transform="translate(386.6 225.54) scale(0.877 1)" text-anchor="end">seagrasses</text>
<g>
<text transform="translate(392.50 249.05) scale(0.84 1)" text-anchor="middle">0</text>
<text transform="translate(429.70 249.05) scale(0.84 1)" text-anchor="middle">10</text>
<text transform="translate(466.90 249.05) scale(0.84 1)" text-anchor="middle">20</text>
<text transform="translate(504.10 249.05) scale(0.84 1)" text-anchor="middle">30</text>
<text transform="translate(541.30 249.05) scale(0.84 1)" text-anchor="middle">40</text>
<text transform="translate(578.50 249.05) scale(0.84 1)" text-anchor="middle">50</text>
<text transform="translate(615.70 249.05) scale(0.84 1)" text-anchor="middle">60</text>
<text transform="translate(652.90 249.05) scale(0.84 1)" text-anchor="middle">70</text>
</g></g>
<rect x="497" y="247.95" width="94" height="19.05" fill="#fff"/>
<text transform="translate(506.4 263.75) scale(1 0.945)" text-rendering="geometricPrecision" font-family="'Liberation Sans',sans-serif" font-size="10" fill="#000" stroke="#000" stroke-width="0.15" textLength="75.2" lengthAdjust="spacingAndGlyphs">Frequencies (%)</text>
</g>
</svg>
</body></html>
